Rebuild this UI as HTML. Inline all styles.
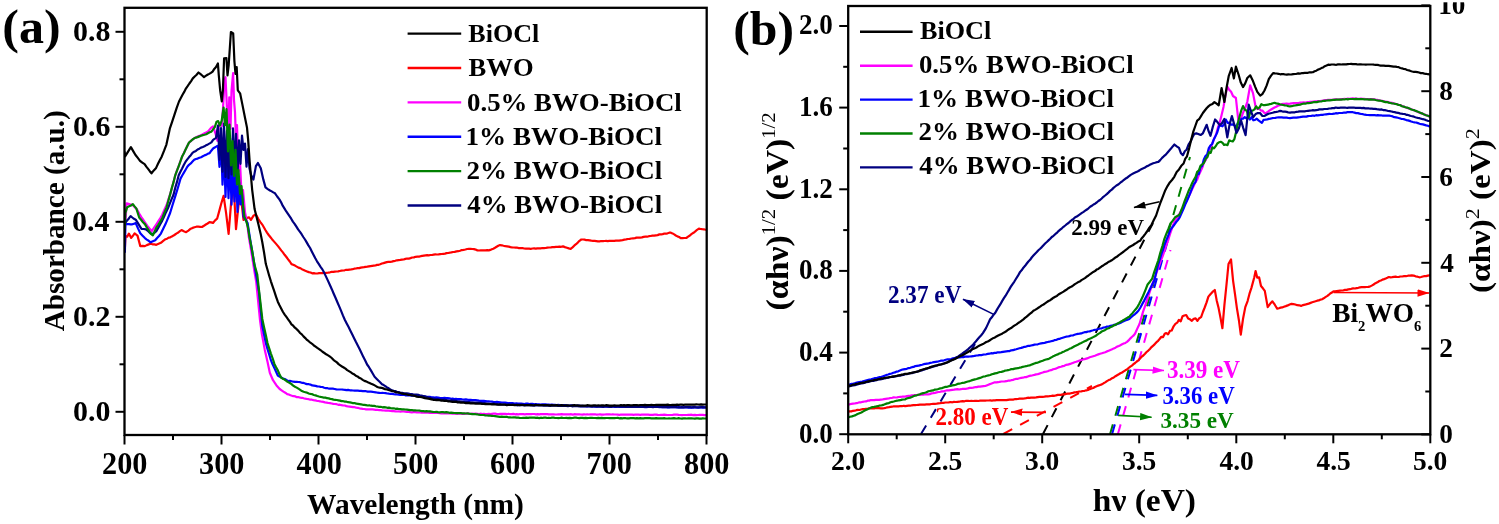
<!DOCTYPE html>
<html><head><meta charset="utf-8"><style>
html,body{margin:0;padding:0;background:#fff;width:1499px;height:524px;overflow:hidden}
svg{display:block;filter:blur(0.35px)}
text{font-family:"Liberation Serif",serif;font-weight:bold}
</style></head><body>
<svg width="1499" height="524" viewBox="0 0 1499 524" font-family="Liberation Serif, serif" font-weight="bold">
<rect width="1499" height="524" fill="#fff"/>
<defs><clipPath id="ca"><rect x="125" y="8" width="581" height="427"/></clipPath><clipPath id="cb"><rect x="849" y="6" width="581" height="428"/></clipPath><marker id="ah" viewBox="0 0 12 8" refX="11.5" refY="4" markerWidth="12" markerHeight="8" orient="auto" markerUnits="userSpaceOnUse"><path d="M0,0.3 L12,4 L0,7.7 z" fill="context-stroke"/></marker></defs>
<g clip-path="url(#ca)">
<path d="M124.8,250.0 L125.5,235.9 L127.2,236.7 L128.9,233.6 L131.2,237.9 L132.9,235.8 L134.6,233.4 L137.5,235.6 L140.3,246.1 L142.6,245.9 L144.9,246.1 L146.8,245.1 L148.7,244.4 L150.6,243.8 L152.5,244.3 L154.4,244.4 L156.3,244.8 L158.6,243.8 L160.9,242.8 L163.2,240.9 L165.5,239.2 L167.1,238.7 L168.7,237.6 L170.3,237.3 L171.9,236.4 L173.5,235.6 L175.1,234.5 L176.7,233.4 L178.3,232.5 L179.9,231.1 L181.5,230.1 L183.8,231.3 L186.1,232.2 L188.4,230.6 L190.7,228.7 L192.6,227.9 L194.5,227.2 L196.4,226.7 L198.3,226.7 L200.1,226.8 L202.0,227.0 L203.9,225.8 L205.8,224.5 L207.6,223.5 L209.5,222.2 L211.2,222.4 L213.0,223.0 L215.1,220.4 L217.1,218.7 L219.1,211.6 L221.2,203.7 L223.6,195.8 L226.1,213.1 L228.6,233.8 L231.1,202.6 L233.6,183.5 L236.0,229.1 L238.5,205.4 L241.0,197.4 L243.5,220.0 L245.3,218.2 L247.2,217.8 L249.1,217.4 L250.9,219.8 L253.4,215.8 L255.9,214.4 L258.4,219.1 L260.2,221.8 L262.1,224.3 L263.7,227.0 L265.4,230.0 L267.0,232.6 L268.7,235.0 L270.3,237.0 L272.0,239.2 L274.1,241.6 L276.1,243.9 L278.2,246.4 L281.2,250.4 L282.9,252.4 L284.6,254.8 L286.4,257.0 L288.1,259.3 L289.8,261.5 L291.5,264.1 L293.2,264.7 L295.0,265.6 L296.7,266.6 L298.4,267.6 L300.2,268.1 L301.9,269.2 L303.6,269.9 L305.3,270.7 L307.0,271.4 L308.8,272.1 L310.5,272.5 L312.2,273.3 L313.9,273.2 L315.6,273.5 L317.4,273.5 L319.1,273.1 L320.8,273.2 L322.5,273.2 L324.4,273.0 L326.2,272.8 L328.1,272.7 L330.0,272.3 L331.6,271.9 L333.2,271.9 L334.9,271.6 L336.5,271.5 L338.1,271.4 L339.7,271.0 L341.4,270.7 L343.0,270.5 L344.6,270.3 L346.2,269.8 L347.8,269.9 L349.5,269.6 L351.1,269.4 L352.7,269.1 L354.3,268.7 L355.9,268.5 L357.6,268.1 L359.2,268.1 L360.8,267.6 L362.4,267.4 L364.0,267.2 L365.7,266.9 L367.3,266.7 L368.9,266.4 L370.5,266.1 L372.2,265.9 L373.8,265.7 L375.4,265.5 L377.0,264.9 L378.6,264.8 L380.2,264.2 L381.9,263.5 L383.5,263.1 L385.1,262.6 L386.7,262.1 L388.4,261.8 L390.1,261.8 L391.8,261.6 L393.5,261.1 L395.2,260.8 L396.9,260.3 L398.6,260.1 L400.3,259.9 L402.0,259.6 L403.7,259.5 L405.4,258.9 L407.1,258.5 L408.8,258.6 L410.5,258.1 L412.2,257.5 L413.9,257.4 L415.6,256.8 L417.3,256.7 L419.0,256.6 L420.7,256.2 L422.3,255.9 L423.9,255.6 L425.6,255.4 L427.2,255.2 L428.8,255.3 L430.4,255.0 L432.0,255.0 L433.7,254.6 L435.3,254.4 L436.9,254.5 L438.5,254.4 L440.2,254.2 L441.8,254.0 L443.4,253.8 L445.0,253.6 L446.6,253.1 L448.2,253.0 L449.9,252.7 L451.5,252.3 L453.1,252.0 L454.7,251.9 L456.5,251.4 L458.3,251.2 L460.1,250.8 L461.8,250.1 L463.6,249.9 L465.4,249.5 L467.2,249.0 L468.9,248.8 L470.6,248.9 L472.3,249.0 L474.0,249.1 L475.7,249.6 L477.4,250.4 L479.0,250.5 L480.7,250.4 L482.3,250.3 L483.9,250.4 L485.5,250.4 L487.2,250.1 L488.8,250.4 L491.1,249.6 L493.3,248.7 L495.0,247.8 L496.6,246.8 L498.3,245.8 L500.0,245.1 L501.8,245.3 L503.5,245.8 L505.2,246.2 L507.0,246.3 L508.8,246.6 L510.5,247.1 L512.2,247.4 L514.0,247.5 L515.7,247.6 L517.4,247.7 L519.0,248.1 L520.7,248.2 L522.4,248.0 L524.1,248.5 L525.8,248.7 L527.4,248.6 L529.1,248.6 L530.8,248.8 L532.5,248.5 L534.1,248.4 L535.8,248.7 L537.4,248.4 L539.1,248.3 L540.7,248.3 L542.4,248.0 L544.0,248.1 L545.7,248.0 L547.3,247.6 L549.0,247.5 L550.8,247.4 L552.5,247.2 L554.2,247.2 L556.0,246.9 L557.8,246.9 L559.5,246.6 L561.2,246.8 L563.0,246.4 L564.9,247.1 L566.9,247.7 L568.8,248.4 L570.7,248.8 L572.5,247.4 L574.2,245.7 L576.0,244.2 L577.8,242.6 L579.5,240.8 L581.3,239.5 L583.0,239.5 L584.6,239.6 L586.3,240.2 L588.0,240.1 L589.6,240.4 L591.3,240.7 L593.0,240.8 L594.7,240.9 L596.3,241.1 L598.0,241.3 L599.6,241.4 L601.2,241.0 L602.9,241.2 L604.5,241.0 L606.1,240.9 L607.7,241.1 L609.4,240.9 L611.0,240.9 L612.6,240.9 L614.2,240.9 L615.9,240.7 L617.5,240.7 L619.1,240.6 L620.9,240.3 L622.6,240.1 L624.4,239.6 L626.1,239.4 L627.9,239.0 L629.6,238.9 L631.4,238.5 L633.1,238.3 L634.9,238.1 L636.6,237.6 L638.4,237.6 L640.1,237.6 L641.9,237.4 L643.6,236.9 L645.4,236.7 L647.1,236.7 L648.9,236.2 L650.6,236.0 L652.4,235.6 L654.1,235.6 L655.9,235.3 L657.6,235.1 L659.4,234.4 L661.1,234.4 L662.7,234.1 L664.4,233.5 L666.0,233.6 L667.6,233.3 L669.3,232.7 L670.9,232.7 L672.5,233.4 L674.2,234.4 L675.8,235.5 L677.4,236.4 L679.1,237.0 L680.7,238.1 L682.6,238.1 L684.4,238.0 L686.3,238.0 L688.1,236.7 L689.9,235.5 L691.7,233.9 L693.5,232.8 L695.3,231.4 L697.1,229.8 L698.9,228.6 L700.5,229.0 L702.2,229.2 L703.9,229.3 L705.5,229.7" fill="none" stroke="#ff0000" stroke-width="2.2" stroke-linejoin="round" stroke-linecap="round" />
<path d="M124.8,232.0 L126.6,203.4 L128.5,203.9 L130.4,204.5 L132.3,204.7 L134.6,207.1 L136.9,209.3 L139.2,213.6 L141.5,217.4 L143.4,220.0 L145.3,222.8 L147.2,225.7 L149.5,228.5 L151.8,231.1 L154.1,227.6 L156.3,224.5 L158.2,221.3 L160.2,218.3 L162.1,215.0 L164.3,209.9 L166.6,205.0 L168.3,199.7 L170.1,194.4 L171.8,188.3 L173.6,181.7 L175.3,175.3 L177.0,170.3 L178.8,166.0 L180.5,160.9 L182.2,156.6 L183.9,152.9 L185.6,149.4 L187.3,146.1 L189.0,142.8 L190.7,141.1 L192.5,139.6 L194.2,138.3 L195.9,137.4 L197.6,136.6 L199.4,135.9 L201.1,135.1 L202.8,134.2 L204.5,133.3 L206.2,132.4 L207.9,131.6 L211.0,127.9 L213.1,126.3 L215.6,133.9 L217.4,140.8 L219.0,123.6 L221.7,126.0 L223.0,108.5 L224.5,80.7 L225.5,77.2 L227.0,109.1 L228.0,139.9 L229.3,97.3 L230.5,128.8 L231.5,91.0 L233.1,73.1 L234.0,100.0 L235.0,112.4 L236.0,139.7 L237.0,125.0 L238.5,170.6 L240.0,161.4 L241.5,194.9 L243.0,190.1 L245.0,212.1 L247.0,222.1 L249.0,238.0 L252.0,255.9 L254.5,271.8 L256.2,281.8 L258.0,299.8 L260.0,320.1 L262.0,334.9 L264.8,349.9 L267.5,361.8 L269.8,372.7 L273.0,380.2 L274.8,382.8 L276.5,385.4 L279.7,389.0 L281.6,390.3 L283.4,391.6 L285.3,392.7 L287.2,394.1 L288.8,394.5 L290.5,395.3 L292.1,395.8 L293.7,396.1 L295.4,396.4 L297.0,397.2 L298.7,397.2 L300.3,397.6 L302.0,397.8 L303.7,398.3 L305.3,398.7 L307.0,399.0 L308.6,399.2 L310.2,399.6 L311.9,399.7 L313.5,400.1 L315.1,400.4 L316.8,400.8 L318.4,401.0 L320.0,401.3 L321.7,401.7 L323.3,401.9 L325.0,402.4 L326.7,402.6 L328.3,403.0 L330.0,403.2 L331.7,403.5 L333.3,403.9 L335.0,404.0 L336.6,404.2 L338.3,404.8 L339.9,404.7 L341.5,405.2 L343.2,405.5 L344.8,405.5 L346.4,406.1 L348.1,406.4 L349.7,406.6 L351.3,406.9 L353.0,407.2 L354.6,407.2 L356.2,407.6 L357.9,407.9 L359.5,408.3 L361.1,408.6 L362.8,408.9 L364.4,409.0 L366.0,409.3 L367.7,409.3 L369.3,409.4 L370.9,409.4 L372.6,409.4 L374.2,409.6 L375.8,409.8 L377.5,409.8 L379.1,410.2 L380.7,410.2 L382.4,410.4 L384.0,410.5 L385.6,410.6 L387.3,410.7 L388.9,410.6 L390.5,411.0 L392.2,411.1 L393.8,411.1 L395.4,411.3 L397.1,411.5 L398.7,411.3 L400.3,411.7 L402.0,411.5 L403.6,411.5 L405.3,411.7 L406.9,412.0 L408.5,411.8 L410.2,412.1 L411.8,412.3 L413.4,412.1 L415.1,412.2 L416.7,412.3 L418.4,412.4 L420.0,412.5 L421.6,412.6 L423.3,412.6 L424.9,412.5 L426.5,412.6 L428.2,412.7 L429.8,413.0 L431.5,412.8 L433.1,413.0 L434.7,412.8 L436.4,412.9 L438.0,413.0 L439.6,413.2 L441.3,413.3 L442.9,413.3 L444.5,413.2 L446.2,413.3 L447.8,413.3 L449.4,413.4 L451.1,413.3 L452.7,413.6 L454.3,413.4 L456.0,413.7 L457.6,413.8 L459.2,413.4 L460.9,413.6 L462.5,413.8 L464.1,413.9 L465.8,413.7 L467.4,413.7 L469.0,413.7 L470.7,414.0 L472.3,413.7 L474.0,413.9 L475.6,413.7 L477.3,413.9 L478.9,414.1 L480.5,413.7 L482.2,414.0 L483.8,413.9 L485.5,414.1 L487.1,414.0 L488.8,413.8 L490.4,414.1 L492.1,413.9 L493.7,413.7 L495.3,413.7 L497.0,414.0 L498.6,414.0 L500.3,413.9 L501.9,413.8 L503.6,413.9 L505.2,413.9 L506.9,414.2 L508.5,413.8 L510.1,414.2 L511.8,414.2 L513.4,413.9 L515.1,414.3 L516.7,414.2 L518.4,414.3 L520.0,414.0 L521.6,414.1 L523.2,414.1 L524.8,414.3 L526.4,414.2 L528.0,414.1 L529.6,414.1 L531.2,414.1 L532.8,414.0 L534.4,414.0 L536.0,414.3 L537.6,414.1 L539.2,414.4 L540.8,414.1 L542.4,414.1 L544.0,414.2 L545.6,414.1 L547.2,414.2 L548.8,414.4 L550.4,414.4 L552.0,414.4 L553.6,414.3 L555.2,414.5 L556.8,414.5 L558.4,414.3 L560.0,414.4 L561.6,414.1 L563.2,414.4 L564.8,414.3 L566.4,414.4 L568.0,414.4 L569.6,414.3 L571.2,414.2 L572.8,414.6 L574.4,414.2 L576.0,414.4 L577.6,414.3 L579.2,414.3 L580.8,414.5 L582.4,414.6 L584.0,414.3 L585.6,414.5 L587.2,414.3 L588.8,414.5 L590.4,414.4 L592.0,414.3 L593.6,414.3 L595.2,414.3 L596.8,414.7 L598.4,414.5 L600.0,414.4 L601.6,414.7 L603.2,414.7 L604.8,414.5 L606.4,414.4 L608.0,414.4 L609.6,414.4 L611.2,414.5 L612.8,414.4 L614.5,414.5 L616.1,414.5 L617.7,414.6 L619.3,414.8 L620.9,414.7 L622.5,414.6 L624.1,414.6 L625.7,414.6 L627.3,414.6 L628.9,414.6 L630.5,414.5 L632.1,414.6 L633.7,414.9 L635.3,414.5 L636.9,414.7 L638.5,414.7 L640.2,414.8 L641.8,414.6 L643.4,414.6 L645.0,414.6 L646.6,414.7 L648.2,414.7 L649.8,414.9 L651.4,414.9 L653.0,414.9 L654.6,414.5 L656.2,414.6 L657.8,414.9 L659.4,415.0 L661.0,414.8 L662.6,414.8 L664.2,414.6 L665.8,414.8 L667.5,415.0 L669.1,415.0 L670.7,415.0 L672.3,415.0 L673.9,414.7 L675.5,414.7 L677.1,414.7 L678.7,414.9 L680.3,415.0 L681.9,415.1 L683.5,415.0 L685.1,415.0 L686.7,415.0 L688.3,414.9 L689.9,414.9 L691.5,414.7 L693.2,415.1 L694.8,414.8 L696.4,415.1 L698.0,415.0 L699.6,414.9 L701.2,414.8 L702.8,414.9 L704.4,415.1 L706.0,415.0" fill="none" stroke="#ff00ff" stroke-width="2.2" stroke-linejoin="round" stroke-linecap="round" />
<path d="M124.9,252.0 L125.4,224.4 L127.1,224.1 L128.9,224.1 L130.6,224.3 L132.3,224.3 L134.0,223.7 L135.7,223.1 L138.0,228.4 L140.3,233.3 L142.6,235.7 L144.9,238.1 L146.8,239.6 L148.7,240.8 L150.6,242.3 L152.9,241.2 L155.2,240.3 L157.1,238.0 L159.0,236.0 L160.9,233.6 L163.2,228.8 L165.5,224.1 L167.8,218.6 L170.1,213.0 L172.0,206.8 L173.9,200.6 L175.8,194.7 L178.2,186.8 L180.5,178.6 L182.2,175.5 L183.9,172.6 L185.6,169.7 L187.3,166.8 L189.0,164.8 L190.8,163.4 L192.5,161.6 L194.2,159.8 L195.9,159.0 L197.6,158.6 L199.4,157.7 L201.1,157.2 L202.8,156.3 L204.5,155.4 L206.2,154.8 L207.9,153.7 L209.6,153.1 L211.3,150.7 L213.1,148.5 L214.7,147.5 L216.3,146.6 L217.9,145.8 L219.5,166.8 L221.0,138.6 L222.5,184.6 L224.0,148.9 L225.5,196.9 L227.0,153.6 L228.5,198.2 L230.0,158.2 L231.5,204.6 L233.0,166.6 L234.5,201.5 L236.0,170.9 L237.5,212.0 L239.0,181.7 L240.5,204.3 L242.0,193.7 L243.5,216.7 L245.0,219.0 L247.6,223.1 L250.3,240.1 L252.0,250.2 L253.7,260.5 L255.4,270.8 L257.2,281.1 L258.9,291.3 L260.6,308.6 L262.3,325.8 L264.1,334.7 L265.8,342.9 L267.5,349.0 L269.2,354.4 L270.9,360.2 L272.6,364.3 L274.4,368.1 L276.1,371.8 L277.8,375.5 L279.5,376.6 L281.2,377.4 L283.0,378.5 L284.7,379.0 L286.4,380.0 L288.1,381.1 L289.8,380.9 L291.6,381.3 L293.3,381.7 L295.0,381.9 L296.7,381.8 L298.4,382.0 L300.2,382.2 L301.9,382.8 L303.6,382.9 L305.3,383.6 L307.0,384.1 L308.8,384.2 L310.5,384.6 L312.2,385.4 L313.9,385.6 L315.6,385.9 L317.3,386.4 L319.0,386.5 L320.7,386.8 L322.5,387.0 L324.2,387.7 L325.9,388.1 L327.6,388.2 L329.3,388.7 L331.1,388.5 L332.9,388.7 L334.6,389.0 L336.4,389.4 L338.2,389.5 L340.0,389.5 L341.6,389.5 L343.3,389.7 L344.9,389.8 L346.5,390.1 L348.1,389.9 L349.8,390.3 L351.4,390.4 L353.0,390.5 L354.6,390.6 L356.3,390.7 L357.9,390.7 L359.5,390.8 L361.1,390.9 L362.8,391.2 L364.4,391.0 L366.0,391.2 L367.7,391.6 L369.3,391.6 L370.9,391.7 L372.6,391.8 L374.2,392.2 L375.8,392.3 L377.5,392.7 L379.1,392.8 L380.7,393.0 L382.4,392.9 L384.0,393.0 L385.6,393.1 L387.3,393.5 L388.9,393.7 L390.5,393.8 L392.2,393.8 L393.8,394.1 L395.4,394.3 L397.1,394.5 L398.7,394.7 L400.3,394.9 L402.0,394.9 L403.6,394.8 L405.3,395.3 L406.9,395.2 L408.5,395.4 L410.2,395.4 L411.8,395.7 L413.4,395.6 L415.1,395.8 L416.7,395.9 L418.4,396.0 L420.0,396.4 L421.6,396.4 L423.3,396.5 L424.9,396.6 L426.5,397.0 L428.2,396.9 L429.8,396.9 L431.5,397.3 L433.1,397.4 L434.7,397.6 L436.4,397.4 L438.0,397.6 L439.6,397.9 L441.3,398.0 L442.9,398.2 L444.5,397.9 L446.2,398.1 L447.8,398.2 L449.4,398.3 L451.1,398.8 L452.7,398.7 L454.3,399.0 L456.0,398.8 L457.6,399.2 L459.2,399.1 L460.9,399.1 L462.5,399.5 L464.1,399.7 L465.8,399.4 L467.4,399.7 L469.0,399.9 L470.7,399.8 L472.3,400.0 L474.0,400.1 L475.6,400.2 L477.2,400.4 L478.9,400.7 L480.5,400.8 L482.1,400.8 L483.8,400.8 L485.4,401.1 L487.1,401.4 L488.7,401.3 L490.3,401.5 L492.0,401.6 L493.6,402.0 L495.3,402.0 L496.9,401.9 L498.5,402.1 L500.2,402.3 L501.8,402.5 L503.4,402.7 L505.1,402.6 L506.7,402.8 L508.4,403.2 L510.0,403.2 L511.6,403.2 L513.2,403.2 L514.8,403.6 L516.4,403.4 L518.0,403.5 L519.6,403.5 L521.2,403.6 L522.9,403.8 L524.5,404.0 L526.1,403.7 L527.7,403.7 L529.3,404.0 L530.9,403.9 L532.5,403.8 L534.1,404.3 L535.7,404.1 L537.3,404.4 L538.9,404.3 L540.5,404.5 L542.1,404.4 L543.8,404.3 L545.4,404.3 L547.0,404.6 L548.6,404.7 L550.2,404.9 L551.8,404.6 L553.4,404.9 L555.0,404.8 L556.6,405.0 L558.2,404.9 L559.8,405.0 L561.4,405.2 L563.0,405.4 L564.6,405.1 L566.2,405.3 L567.9,405.5 L569.5,405.7 L571.1,405.4 L572.7,405.4 L574.3,405.8 L575.9,405.9 L577.5,405.7 L579.1,405.6 L580.7,406.1 L582.3,405.9 L583.9,406.2 L585.5,406.1 L587.1,406.3 L588.8,406.0 L590.4,406.4 L592.0,406.2 L593.6,406.3 L595.2,406.6 L596.8,406.6 L598.4,406.4 L600.0,406.5 L601.6,406.6 L603.2,406.6 L604.8,406.6 L606.4,406.5 L608.0,406.6 L609.6,406.8 L611.2,406.9 L612.8,406.5 L614.5,406.8 L616.1,406.8 L617.7,406.5 L619.3,406.9 L620.9,406.6 L622.5,406.8 L624.1,406.8 L625.7,406.9 L627.3,406.7 L628.9,406.8 L630.5,406.9 L632.1,406.8 L633.7,407.0 L635.3,406.9 L636.9,406.9 L638.5,406.7 L640.2,407.0 L641.8,406.9 L643.4,406.9 L645.0,407.1 L646.6,407.1 L648.2,407.0 L649.8,406.9 L651.4,407.0 L653.0,406.9 L654.6,406.9 L656.2,407.0 L657.8,406.9 L659.4,407.1 L661.0,407.1 L662.6,406.9 L664.2,407.2 L665.8,407.0 L667.5,407.3 L669.1,407.3 L670.7,407.2 L672.3,407.0 L673.9,407.2 L675.5,407.2 L677.1,407.5 L678.7,407.1 L680.3,407.4 L681.9,407.5 L683.5,407.4 L685.1,407.5 L686.7,407.2 L688.3,407.6 L689.9,407.4 L691.5,407.6 L693.2,407.6 L694.8,407.3 L696.4,407.5 L698.0,407.6 L699.6,407.3 L701.2,407.4 L702.8,407.6 L704.4,407.3 L706.0,407.5" fill="none" stroke="#0000ff" stroke-width="2.2" stroke-linejoin="round" stroke-linecap="round" />
<path d="M124.8,232.0 L124.9,223.4 L126.8,220.8 L128.7,218.7 L130.6,216.1 L132.3,217.5 L134.0,218.8 L135.7,219.7 L137.6,222.7 L139.6,225.9 L141.5,228.8 L143.8,229.0 L146.0,229.4 L147.8,230.8 L149.5,232.5 L152.3,234.2 L154.3,232.8 L156.3,231.1 L158.2,227.9 L160.2,224.2 L162.1,220.9 L164.0,216.8 L165.9,212.4 L167.8,208.5 L169.7,203.8 L171.6,199.2 L173.5,194.8 L175.2,188.0 L177.0,181.9 L178.7,175.3 L180.4,171.7 L182.1,168.5 L183.9,164.8 L185.6,161.7 L187.3,159.4 L189.1,157.1 L190.8,155.2 L192.5,152.9 L194.2,151.7 L195.9,150.9 L197.6,149.5 L199.3,148.7 L201.0,147.6 L202.8,147.0 L204.5,146.3 L206.2,145.2 L207.9,144.4 L209.7,143.4 L211.4,142.4 L213.1,139.8 L216.0,137.9 L218.0,125.5 L219.5,159.7 L221.0,128.1 L222.5,171.6 L224.0,123.5 L225.5,176.9 L227.0,130.6 L228.5,178.1 L230.0,138.0 L231.5,174.4 L233.0,128.4 L234.5,169.4 L236.0,133.9 L237.5,175.3 L239.0,140.4 L240.5,163.8 L242.0,135.5 L243.5,149.9 L245.0,143.5 L246.5,166.7 L248.0,149.0 L249.5,168.6 L251.0,174.8 L253.4,179.6 L255.9,166.1 L257.9,163.0 L260.8,168.3 L263.3,179.4 L265.5,187.4 L267.8,189.1 L270.0,190.5 L271.7,191.4 L273.3,192.4 L275.0,193.3 L277.2,196.5 L279.4,199.4 L281.1,202.3 L282.7,205.7 L284.4,208.4 L286.1,211.2 L287.8,213.7 L289.5,216.2 L291.2,218.7 L292.9,221.6 L294.6,223.8 L296.4,226.6 L298.1,229.4 L299.8,231.6 L301.6,234.2 L303.3,237.0 L305.0,239.5 L306.7,242.4 L308.4,245.4 L310.1,248.0 L311.8,251.4 L313.6,254.9 L315.3,258.2 L317.0,261.3 L318.7,263.9 L320.4,266.6 L322.0,268.8 L323.7,271.7 L325.8,276.1 L327.8,280.4 L329.9,285.0 L331.8,289.2 L333.6,293.5 L335.5,297.8 L337.4,302.2 L339.2,306.4 L341.1,310.9 L342.9,315.4 L344.8,319.7 L346.7,323.5 L348.6,327.1 L350.4,330.7 L352.3,334.5 L354.1,338.2 L356.0,342.1 L357.9,345.7 L359.7,349.3 L361.6,353.2 L363.4,357.1 L365.2,360.5 L367.1,364.5 L369.0,367.2 L370.9,370.4 L372.7,373.5 L374.6,376.8 L376.5,378.7 L378.3,380.5 L380.1,382.2 L382.0,384.3 L383.7,385.1 L385.3,386.1 L387.0,387.4 L388.7,388.3 L390.3,389.4 L392.0,390.4 L393.6,390.9 L395.3,391.1 L396.9,391.7 L398.6,392.1 L400.2,392.5 L401.9,392.8 L403.5,393.1 L405.2,393.3 L406.8,393.4 L408.5,393.6 L410.1,394.0 L411.8,394.0 L413.4,394.6 L415.1,394.5 L416.7,394.6 L418.4,394.9 L420.0,395.5 L421.6,395.7 L423.3,396.0 L424.9,396.4 L426.6,396.8 L428.2,397.5 L429.8,397.9 L431.5,398.4 L433.1,398.8 L434.7,398.7 L436.4,399.1 L438.0,399.1 L439.6,399.5 L441.3,399.7 L442.9,399.8 L444.5,399.6 L446.2,400.2 L447.8,400.3 L449.4,400.5 L451.1,400.3 L452.7,400.5 L454.3,400.6 L456.0,400.8 L457.6,401.3 L459.2,401.4 L460.9,401.5 L462.5,401.8 L464.1,401.8 L465.8,401.8 L467.4,401.9 L469.0,402.0 L470.7,402.4 L472.3,402.3 L474.0,402.5 L475.6,402.6 L477.2,402.5 L478.9,402.7 L480.5,402.9 L482.1,403.2 L483.8,403.1 L485.4,403.2 L487.1,403.6 L488.7,403.5 L490.3,403.8 L492.0,403.8 L493.6,403.6 L495.3,403.9 L496.9,404.0 L498.5,404.3 L500.2,404.2 L501.8,404.5 L503.4,404.5 L505.1,404.5 L506.7,404.8 L508.4,404.6 L510.0,405.0 L511.6,404.8 L513.2,404.7 L514.8,404.9 L516.4,405.1 L518.0,405.3 L519.6,404.9 L521.2,405.1 L522.9,405.1 L524.5,405.3 L526.1,405.1 L527.7,405.2 L529.3,405.2 L530.9,405.4 L532.5,405.2 L534.1,405.6 L535.7,405.3 L537.3,405.3 L538.9,405.5 L540.5,405.5 L542.1,405.3 L543.8,405.6 L545.4,405.4 L547.0,405.7 L548.6,405.7 L550.2,405.8 L551.8,405.7 L553.4,405.7 L555.0,405.7 L556.6,405.7 L558.2,406.0 L559.8,405.7 L561.4,406.0 L563.0,405.7 L564.6,405.8 L566.2,405.9 L567.9,406.2 L569.5,406.0 L571.1,406.0 L572.7,406.3 L574.3,406.0 L575.9,406.1 L577.5,406.2 L579.1,406.3 L580.7,406.3 L582.3,406.3 L583.9,406.2 L585.5,406.3 L587.1,406.2 L588.8,406.5 L590.4,406.5 L592.0,406.6 L593.6,406.3 L595.2,406.5 L596.8,406.7 L598.4,406.6 L600.0,406.4 L601.6,406.6 L603.2,406.8 L604.8,406.5 L606.4,406.5 L608.0,406.6 L609.6,406.8 L611.2,406.8 L612.8,406.5 L614.5,406.5 L616.1,406.6 L617.7,406.6 L619.3,406.7 L620.9,406.6 L622.5,406.7 L624.1,406.6 L625.7,407.0 L627.3,406.9 L628.9,406.6 L630.5,407.0 L632.1,406.6 L633.7,406.8 L635.3,407.0 L636.9,407.0 L638.5,407.0 L640.2,406.8 L641.8,406.7 L643.4,406.9 L645.0,406.7 L646.6,406.8 L648.2,406.9 L649.8,406.7 L651.4,406.9 L653.0,407.1 L654.6,407.0 L656.2,407.0 L657.8,407.0 L659.4,407.0 L661.0,406.8 L662.6,407.1 L664.2,407.0 L665.8,407.1 L667.5,407.2 L669.1,407.0 L670.7,407.1 L672.3,407.2 L673.9,407.1 L675.5,407.0 L677.1,407.2 L678.7,407.3 L680.3,407.3 L681.9,407.2 L683.5,407.3 L685.1,407.2 L686.7,407.2 L688.3,407.2 L689.9,407.1 L691.5,407.3 L693.2,407.0 L694.8,407.2 L696.4,407.4 L698.0,407.3 L699.6,407.3 L701.2,407.2 L702.8,407.2 L704.4,407.3 L706.0,407.3" fill="none" stroke="#000080" stroke-width="2.2" stroke-linejoin="round" stroke-linecap="round" />
<path d="M124.8,228.0 L125.4,213.0 L127.2,207.2 L129.1,206.3 L131.0,205.5 L132.9,204.2 L134.6,206.4 L136.3,208.4 L139.2,217.5 L141.1,219.8 L143.0,222.2 L144.9,224.1 L146.8,227.4 L148.7,230.3 L150.6,233.6 L152.9,235.4 L154.6,231.5 L156.3,227.6 L158.2,224.8 L160.2,221.7 L162.1,218.7 L164.3,212.9 L166.6,207.3 L168.3,201.0 L170.1,194.6 L171.8,188.1 L173.6,181.9 L175.3,175.1 L177.0,170.6 L178.8,165.8 L180.5,161.2 L182.2,156.2 L183.9,153.2 L185.6,149.4 L187.3,145.9 L189.0,142.5 L190.7,141.1 L192.5,139.5 L194.2,138.3 L195.9,137.6 L197.6,137.1 L199.4,136.4 L201.1,135.7 L202.8,135.1 L204.5,134.7 L206.2,134.2 L207.9,133.2 L209.7,132.2 L211.4,131.6 L213.1,129.3 L214.8,127.1 L216.5,121.8 L218.2,121.1 L219.9,125.5 L221.7,120.7 L223.6,107.5 L225.0,125.2 L226.5,109.2 L228.0,151.4 L229.5,124.6 L231.0,165.4 L232.5,141.0 L234.0,175.9 L235.5,149.9 L237.0,184.4 L238.5,170.1 L240.0,193.9 L241.5,186.0 L243.0,204.6 L244.5,217.1 L246.0,220.3 L248.0,227.6 L249.5,237.3 L252.0,250.0 L254.5,264.9 L257.2,274.2 L258.9,289.4 L260.6,304.0 L262.3,318.9 L264.0,326.9 L265.8,335.1 L267.5,343.1 L269.2,348.3 L270.9,353.5 L272.7,358.5 L274.4,363.9 L276.1,367.3 L277.8,370.4 L279.5,374.2 L281.2,377.7 L282.9,378.8 L284.6,379.6 L286.4,381.0 L288.1,382.1 L289.8,383.0 L291.5,384.1 L293.2,385.6 L295.0,386.7 L296.7,387.6 L298.4,388.7 L300.2,389.9 L301.9,391.1 L303.6,391.8 L305.3,392.2 L307.0,392.6 L308.7,393.5 L310.4,393.9 L312.2,394.2 L313.9,395.0 L315.6,395.4 L317.3,396.0 L319.0,396.5 L320.6,396.9 L322.2,397.2 L323.8,397.6 L325.5,397.6 L327.1,398.2 L328.7,398.4 L330.3,398.9 L331.9,399.1 L333.5,399.6 L335.2,399.8 L336.8,400.0 L338.4,400.3 L340.0,400.6 L341.6,401.1 L343.3,401.2 L344.9,401.6 L346.5,401.7 L348.1,402.2 L349.8,402.4 L351.4,402.7 L353.0,403.1 L354.6,403.0 L356.3,403.7 L357.9,403.8 L359.5,404.1 L361.1,404.4 L362.8,404.8 L364.4,404.8 L366.0,405.1 L367.7,405.5 L369.3,405.3 L370.9,405.7 L372.6,405.9 L374.2,405.9 L375.8,406.3 L377.5,406.5 L379.1,406.8 L380.7,406.8 L382.4,407.3 L384.0,407.2 L385.6,407.4 L387.3,407.8 L388.9,407.6 L390.5,408.1 L392.2,408.3 L393.8,408.3 L395.4,408.8 L397.1,408.7 L398.7,409.0 L400.3,409.1 L402.0,409.4 L403.6,409.3 L405.3,409.5 L406.9,409.6 L408.5,409.8 L410.2,410.1 L411.8,410.0 L413.4,410.3 L415.1,410.3 L416.7,410.5 L418.4,410.5 L420.0,410.7 L421.6,411.1 L423.3,411.1 L424.9,411.3 L426.5,411.2 L428.2,411.3 L429.8,411.4 L431.5,411.7 L433.1,411.9 L434.7,412.0 L436.4,411.8 L438.0,412.1 L439.6,412.3 L441.3,412.2 L442.9,412.1 L444.5,412.3 L446.2,412.2 L447.8,412.4 L449.4,412.8 L451.1,412.7 L452.7,412.8 L454.3,413.0 L456.0,413.1 L457.6,413.1 L459.2,413.1 L460.9,413.2 L462.5,413.3 L464.1,413.4 L465.8,413.5 L467.4,413.4 L469.0,413.7 L470.7,413.8 L472.3,414.1 L473.9,414.0 L475.5,414.2 L477.2,414.3 L478.8,414.7 L480.4,415.0 L482.1,415.0 L483.7,415.0 L485.3,415.4 L487.0,415.5 L488.6,415.6 L490.2,415.6 L491.9,415.8 L493.5,416.0 L495.1,416.1 L496.7,416.3 L498.4,416.6 L500.0,416.9 L501.7,416.6 L503.3,416.9 L505.0,416.8 L506.7,416.9 L508.3,417.3 L510.0,417.3 L511.7,417.5 L513.3,417.4 L515.0,417.3 L516.7,417.6 L518.3,417.7 L520.0,418.0 L521.6,418.0 L523.2,417.8 L524.8,417.8 L526.4,417.6 L528.0,417.9 L529.6,417.7 L531.2,417.7 L532.8,417.6 L534.4,417.6 L536.0,417.9 L537.6,417.7 L539.2,418.1 L540.8,417.7 L542.4,418.0 L544.0,417.7 L545.6,417.7 L547.2,418.0 L548.8,417.8 L550.4,418.0 L552.0,417.7 L553.6,417.7 L555.2,418.0 L556.8,418.0 L558.4,418.1 L560.0,418.0 L561.6,417.7 L563.2,418.0 L564.8,418.0 L566.4,417.9 L568.0,418.1 L569.6,417.8 L571.2,418.1 L572.8,418.0 L574.4,417.7 L576.0,417.7 L577.6,418.0 L579.2,418.1 L580.8,417.8 L582.4,417.9 L584.0,418.1 L585.6,417.8 L587.2,418.1 L588.8,418.0 L590.4,417.8 L592.0,417.9 L593.6,418.0 L595.2,418.0 L596.8,418.1 L598.4,417.8 L600.0,418.1 L601.6,417.9 L603.2,418.1 L604.8,418.1 L606.4,418.0 L608.0,418.0 L609.6,418.2 L611.2,418.2 L612.8,418.2 L614.5,418.1 L616.1,418.0 L617.7,417.9 L619.3,418.3 L620.9,418.2 L622.5,418.3 L624.1,418.0 L625.7,418.2 L627.3,418.3 L628.9,418.3 L630.5,418.2 L632.1,418.1 L633.7,418.1 L635.3,418.3 L636.9,418.1 L638.5,418.3 L640.2,418.2 L641.8,418.4 L643.4,418.3 L645.0,418.1 L646.6,418.0 L648.2,418.1 L649.8,418.2 L651.4,418.3 L653.0,418.4 L654.6,418.4 L656.2,418.1 L657.8,418.4 L659.4,418.4 L661.0,418.4 L662.6,418.3 L664.2,418.2 L665.8,418.5 L667.5,418.5 L669.1,418.4 L670.7,418.5 L672.3,418.3 L673.9,418.2 L675.5,418.4 L677.1,418.5 L678.7,418.2 L680.3,418.5 L681.9,418.6 L683.5,418.3 L685.1,418.4 L686.7,418.5 L688.3,418.4 L689.9,418.3 L691.5,418.3 L693.2,418.5 L694.8,418.6 L696.4,418.4 L698.0,418.3 L699.6,418.6 L701.2,418.6 L702.8,418.4 L704.4,418.5 L706.0,418.5" fill="none" stroke="#008000" stroke-width="2.2" stroke-linejoin="round" stroke-linecap="round" />
<path d="M124.5,152.0 L125.1,156.5 L127.0,153.4 L129.0,150.2 L130.9,147.1 L133.2,151.1 L135.5,155.0 L137.8,157.9 L140.0,160.8 L142.3,162.7 L144.6,164.2 L146.3,166.6 L148.1,168.9 L149.8,171.2 L151.5,173.3 L153.8,170.4 L156.1,167.9 L158.0,163.8 L159.9,159.9 L161.8,156.4 L164.1,150.7 L166.4,144.6 L168.1,136.8 L169.8,128.7 L172.1,121.9 L174.4,114.8 L176.7,107.9 L179.0,101.5 L180.7,98.3 L182.4,95.0 L184.2,91.9 L185.9,88.6 L187.6,86.2 L189.4,83.5 L191.1,81.1 L192.8,78.4 L194.7,76.5 L196.6,74.7 L198.5,72.5 L200.3,73.9 L202.2,75.5 L204.0,77.1 L205.7,75.9 L207.5,74.8 L209.2,73.9 L210.9,72.9 L212.6,71.6 L214.3,68.9 L216.0,67.0 L217.9,63.4 L218.8,75.3 L220.2,90.7 L221.8,101.4 L222.9,90.2 L224.1,58.3 L226.4,58.0 L227.5,75.4 L228.7,65.0 L230.9,32.0 L233.2,33.5 L234.4,61.1 L235.5,74.0 L236.7,67.2 L237.8,90.3 L240.1,93.3 L242.4,104.6 L244.7,116.2 L247.0,127.6 L248.1,139.4 L249.7,162.2 L252.2,190.1 L254.6,209.1 L256.5,216.8 L258.4,224.2 L260.8,234.6 L262.3,242.2 L264.1,252.8 L265.8,263.8 L267.5,269.8 L269.2,275.7 L270.9,281.3 L272.6,286.3 L274.4,291.6 L276.1,296.8 L277.8,301.7 L279.5,305.3 L281.3,308.7 L283.0,312.0 L284.7,314.6 L286.4,316.9 L288.1,319.3 L289.8,321.6 L291.5,324.3 L293.2,325.7 L294.9,327.7 L296.7,329.2 L298.4,330.9 L300.1,333.0 L301.8,334.4 L303.5,336.4 L305.3,338.1 L307.0,339.9 L308.7,341.2 L310.4,342.7 L312.1,343.8 L313.9,345.5 L315.6,346.7 L317.3,347.9 L319.1,349.1 L320.8,350.3 L322.5,351.8 L324.4,353.0 L326.2,354.3 L328.1,355.4 L330.0,356.7 L331.7,358.0 L333.4,359.8 L335.1,361.1 L336.9,362.4 L338.6,364.1 L340.3,365.3 L342.0,366.5 L343.7,367.5 L345.5,368.7 L347.2,370.1 L348.9,371.1 L350.6,372.2 L352.3,373.4 L354.1,374.3 L355.8,375.7 L357.5,376.4 L359.2,377.8 L360.9,378.5 L362.7,379.9 L364.4,380.9 L366.1,381.4 L367.8,382.3 L369.5,383.0 L371.2,383.8 L373.0,384.5 L374.7,385.4 L376.4,386.4 L378.1,387.2 L379.8,387.7 L381.5,387.8 L383.2,388.4 L385.0,389.1 L386.7,389.3 L388.4,390.0 L390.1,390.4 L391.8,391.1 L393.6,391.2 L395.3,392.1 L397.0,392.3 L398.7,392.7 L400.3,393.0 L402.0,393.7 L403.6,393.9 L405.3,394.1 L406.9,394.5 L408.5,395.0 L410.2,395.0 L411.8,395.5 L413.4,395.7 L415.1,396.0 L416.7,396.6 L418.4,396.9 L420.0,397.0 L421.6,397.2 L423.3,397.6 L424.9,398.1 L426.5,398.4 L428.2,398.6 L429.8,398.9 L431.5,399.4 L433.1,399.8 L434.7,400.0 L436.4,400.1 L438.0,400.1 L439.6,400.2 L441.3,400.6 L442.9,400.7 L444.5,401.0 L446.2,400.8 L447.8,401.3 L449.4,401.3 L451.1,401.7 L452.7,401.9 L454.3,401.9 L456.0,401.8 L457.6,402.4 L459.2,402.4 L460.9,402.7 L462.5,402.6 L464.1,402.7 L465.8,403.2 L467.4,403.1 L469.0,403.1 L470.7,403.3 L472.3,403.4 L474.0,403.3 L475.6,403.6 L477.2,403.6 L478.9,403.7 L480.5,403.6 L482.1,403.9 L483.8,404.0 L485.4,404.1 L487.1,404.0 L488.7,404.2 L490.3,404.1 L492.0,404.3 L493.6,404.1 L495.3,404.5 L496.9,404.6 L498.5,404.5 L500.2,404.6 L501.8,404.7 L503.4,404.7 L505.1,404.6 L506.7,405.1 L508.4,404.8 L510.0,404.9 L511.6,404.8 L513.2,404.9 L514.8,405.2 L516.4,404.8 L518.0,404.9 L519.6,405.1 L521.2,404.9 L522.9,404.9 L524.5,405.1 L526.1,405.1 L527.7,405.1 L529.3,405.2 L530.9,404.9 L532.5,405.3 L534.1,405.2 L535.7,404.9 L537.3,405.0 L538.9,405.2 L540.5,405.2 L542.1,405.1 L543.8,405.0 L545.4,405.2 L547.0,405.0 L548.6,405.3 L550.2,405.4 L551.8,405.1 L553.4,405.3 L555.0,405.4 L556.6,405.1 L558.2,405.4 L559.8,405.5 L561.4,405.2 L563.0,405.3 L564.6,405.5 L566.2,405.3 L567.9,405.3 L569.5,405.5 L571.1,405.5 L572.7,405.3 L574.3,405.2 L575.9,405.3 L577.5,405.3 L579.1,405.6 L580.7,405.5 L582.3,405.6 L583.9,405.5 L585.5,405.6 L587.1,405.2 L588.8,405.4 L590.4,405.6 L592.0,405.6 L593.6,405.4 L595.2,405.4 L596.8,405.5 L598.4,405.4 L600.0,405.5 L601.6,405.3 L603.2,405.4 L604.8,405.5 L606.4,405.2 L608.0,405.3 L609.6,405.6 L611.2,405.5 L612.8,405.6 L614.5,405.4 L616.1,405.5 L617.7,405.5 L619.3,405.5 L620.9,405.1 L622.5,405.4 L624.1,405.2 L625.7,405.3 L627.3,405.1 L628.9,405.2 L630.5,405.4 L632.1,405.3 L633.7,405.1 L635.3,405.2 L636.9,405.1 L638.5,405.3 L640.2,405.0 L641.8,405.0 L643.4,405.2 L645.0,404.9 L646.6,405.1 L648.2,405.2 L649.8,405.0 L651.4,404.9 L653.0,405.0 L654.6,405.0 L656.2,404.8 L657.8,404.8 L659.4,404.8 L661.0,404.8 L662.6,404.9 L664.2,404.8 L665.8,404.8 L667.5,404.7 L669.1,404.9 L670.7,405.0 L672.3,404.9 L673.9,404.8 L675.5,404.9 L677.1,404.6 L678.7,404.9 L680.3,404.7 L681.9,404.7 L683.5,404.8 L685.1,404.7 L686.7,404.6 L688.3,404.6 L689.9,404.5 L691.5,404.6 L693.2,404.6 L694.8,404.6 L696.4,404.4 L698.0,404.5 L699.6,404.7 L701.2,404.4 L702.8,404.6 L704.4,404.5 L706.0,404.5" fill="none" stroke="#000000" stroke-width="2.2" stroke-linejoin="round" stroke-linecap="round" />
</g>
<rect x="124.5" y="7.8" width="582.2" height="427.2" fill="none" stroke="#000" stroke-width="2.3"/>
<line x1="124.5" y1="435.0" x2="124.5" y2="444.5" stroke="#000" stroke-width="2" />
<line x1="173.0" y1="435.0" x2="173.0" y2="440.0" stroke="#000" stroke-width="2" />
<line x1="221.5" y1="435.0" x2="221.5" y2="444.5" stroke="#000" stroke-width="2" />
<line x1="270.0" y1="435.0" x2="270.0" y2="440.0" stroke="#000" stroke-width="2" />
<line x1="318.5" y1="435.0" x2="318.5" y2="444.5" stroke="#000" stroke-width="2" />
<line x1="367.0" y1="435.0" x2="367.0" y2="440.0" stroke="#000" stroke-width="2" />
<line x1="415.5" y1="435.0" x2="415.5" y2="444.5" stroke="#000" stroke-width="2" />
<line x1="464.0" y1="435.0" x2="464.0" y2="440.0" stroke="#000" stroke-width="2" />
<line x1="512.5" y1="435.0" x2="512.5" y2="444.5" stroke="#000" stroke-width="2" />
<line x1="561.0" y1="435.0" x2="561.0" y2="440.0" stroke="#000" stroke-width="2" />
<line x1="609.5" y1="435.0" x2="609.5" y2="444.5" stroke="#000" stroke-width="2" />
<line x1="658.0" y1="435.0" x2="658.0" y2="440.0" stroke="#000" stroke-width="2" />
<line x1="706.5" y1="435.0" x2="706.5" y2="444.5" stroke="#000" stroke-width="2" />
<line x1="115.5" y1="411.8" x2="124.5" y2="411.8" stroke="#000" stroke-width="2" />
<line x1="119.5" y1="364.3" x2="124.5" y2="364.3" stroke="#000" stroke-width="2" />
<line x1="115.5" y1="316.8" x2="124.5" y2="316.8" stroke="#000" stroke-width="2" />
<line x1="119.5" y1="269.3" x2="124.5" y2="269.3" stroke="#000" stroke-width="2" />
<line x1="115.5" y1="221.8" x2="124.5" y2="221.8" stroke="#000" stroke-width="2" />
<line x1="119.5" y1="174.3" x2="124.5" y2="174.3" stroke="#000" stroke-width="2" />
<line x1="115.5" y1="126.8" x2="124.5" y2="126.8" stroke="#000" stroke-width="2" />
<line x1="119.5" y1="79.3" x2="124.5" y2="79.3" stroke="#000" stroke-width="2" />
<line x1="115.5" y1="31.8" x2="124.5" y2="31.8" stroke="#000" stroke-width="2" />
<line x1="407.6" y1="33.6" x2="461.2" y2="33.6" stroke="#000000" stroke-width="2.4" />
<line x1="407.6" y1="68.0" x2="461.2" y2="68.0" stroke="#ff0000" stroke-width="2.4" />
<line x1="407.6" y1="102.4" x2="461.2" y2="102.4" stroke="#ff00ff" stroke-width="2.4" />
<line x1="407.6" y1="136.7" x2="461.2" y2="136.7" stroke="#0000ff" stroke-width="2.4" />
<line x1="407.6" y1="171.1" x2="461.2" y2="171.1" stroke="#008000" stroke-width="2.4" />
<line x1="407.6" y1="205.5" x2="461.2" y2="205.5" stroke="#000080" stroke-width="2.4" />
<g clip-path="url(#cb)">
<line x1="921.0" y1="434.0" x2="975.0" y2="344.0" stroke="#000080" stroke-width="2" stroke-dasharray="10,9"/>
<line x1="1043.0" y1="434.0" x2="1153.5" y2="222.0" stroke="#000000" stroke-width="2" stroke-dasharray="10,9"/>
<line x1="1003.4" y1="434.0" x2="1092.0" y2="386.0" stroke="#ff0000" stroke-width="2" stroke-dasharray="10,9"/>
<line x1="1110.1" y1="434.0" x2="1190.0" y2="157.0" stroke="#008000" stroke-width="2" stroke-dasharray="10,9"/>
<line x1="1112.1" y1="434.0" x2="1168.0" y2="240.0" stroke="#0000ff" stroke-width="2" stroke-dasharray="10,9"/>
<line x1="1117.9" y1="434.0" x2="1170.5" y2="250.0" stroke="#ff00ff" stroke-width="2" stroke-dasharray="10,9"/>
<path d="M848.2,411.7 L849.8,411.3 L851.4,411.4 L853.0,410.8 L854.7,410.7 L856.3,410.2 L857.9,409.9 L859.5,410.0 L861.1,409.5 L862.8,409.2 L864.4,409.1 L866.0,408.9 L867.6,408.8 L869.3,408.3 L870.9,408.1 L872.5,408.4 L874.2,408.3 L875.8,408.0 L877.5,408.1 L879.1,408.1 L880.8,408.3 L882.4,408.3 L884.0,408.1 L885.7,407.8 L887.3,407.4 L888.9,407.2 L890.5,406.9 L892.2,406.7 L893.8,406.3 L895.4,406.4 L897.1,406.3 L898.7,406.4 L900.4,406.0 L902.0,406.2 L903.7,405.8 L905.3,406.1 L906.9,405.9 L908.6,405.7 L910.2,405.7 L911.8,405.3 L913.4,405.1 L915.1,405.1 L916.7,405.0 L918.3,404.8 L919.9,404.6 L921.5,404.6 L923.2,404.6 L924.8,404.6 L926.4,404.4 L928.0,404.4 L929.7,404.3 L931.5,404.0 L933.2,403.8 L934.9,403.8 L936.7,403.7 L938.4,403.4 L940.2,403.2 L941.9,402.9 L943.6,402.8 L945.4,402.5 L947.1,402.5 L948.8,402.4 L950.6,402.0 L952.3,402.3 L954.0,401.9 L955.8,402.0 L957.5,401.8 L959.3,401.7 L961.0,401.3 L962.7,401.2 L964.5,401.3 L966.2,400.8 L967.9,400.8 L969.7,401.0 L971.4,400.9 L973.1,401.0 L974.9,400.9 L976.6,400.8 L978.4,401.0 L980.1,400.7 L981.8,400.7 L983.6,400.7 L985.3,400.6 L986.9,400.5 L988.5,400.5 L990.2,400.4 L991.8,400.6 L993.4,400.4 L995.0,400.3 L996.6,400.1 L998.3,400.1 L999.9,400.1 L1001.5,400.1 L1003.1,400.1 L1004.8,400.2 L1006.4,400.2 L1008.0,399.9 L1009.6,399.7 L1011.3,399.6 L1013.0,399.6 L1014.6,399.2 L1016.2,399.1 L1017.9,399.0 L1019.5,398.6 L1021.2,398.5 L1022.8,398.6 L1024.5,398.4 L1026.1,398.1 L1027.8,397.7 L1029.5,397.9 L1031.1,397.7 L1032.8,397.7 L1034.4,397.6 L1036.1,397.4 L1037.8,397.1 L1039.4,396.9 L1041.1,396.8 L1042.7,396.8 L1044.4,396.7 L1046.0,396.4 L1047.7,396.3 L1049.4,396.2 L1051.0,396.0 L1052.7,395.7 L1054.4,395.8 L1056.0,395.4 L1057.7,394.9 L1059.3,394.9 L1061.0,394.9 L1062.7,394.4 L1064.3,394.4 L1066.0,393.9 L1067.7,393.7 L1069.4,393.6 L1071.1,393.2 L1072.8,392.9 L1074.5,392.4 L1076.2,392.2 L1077.8,391.9 L1079.5,391.5 L1081.2,391.3 L1082.9,391.0 L1084.6,390.8 L1086.3,390.3 L1088.0,390.0 L1089.7,389.1 L1091.5,388.4 L1093.2,388.0 L1094.9,387.0 L1096.6,386.3 L1098.3,385.6 L1100.1,385.0 L1101.8,384.4 L1103.5,383.3 L1105.2,382.4 L1106.9,381.1 L1108.7,380.1 L1110.4,379.4 L1112.1,378.2 L1113.8,377.4 L1115.5,376.2 L1117.1,375.2 L1118.8,374.2 L1120.4,373.2 L1122.1,372.5 L1123.7,371.4 L1125.4,370.3 L1127.0,369.4 L1128.6,368.0 L1130.3,366.6 L1131.9,365.6 L1133.5,364.2 L1135.1,363.0 L1136.8,361.5 L1138.4,360.3 L1140.0,358.5 L1141.7,356.7 L1143.3,355.5 L1145.0,353.8 L1146.6,352.0 L1148.3,350.6 L1149.9,348.9 L1151.5,347.1 L1153.2,345.6 L1154.8,344.1 L1156.5,342.2 L1158.1,340.8 L1159.8,338.8 L1161.4,336.8 L1163.1,337.1 L1164.7,333.8 L1166.3,333.0 L1168.0,334.4 L1169.9,330.9 L1171.7,330.5 L1173.6,326.3 L1175.4,323.9 L1177.2,322.7 L1178.9,319.9 L1180.7,321.3 L1182.5,316.3 L1184.3,315.5 L1186.2,315.0 L1188.1,318.4 L1190.0,319.3 L1191.9,320.9 L1193.7,318.8 L1195.6,318.4 L1197.4,320.9 L1199.3,318.2 L1201.1,317.1 L1202.9,312.0 L1204.7,307.5 L1206.6,302.4 L1208.4,296.6 L1210.2,294.5 L1212.5,291.9 L1214.8,290.0 L1216.7,300.4 L1218.6,308.1 L1220.5,317.7 L1222.4,328.2 L1224.4,305.1 L1226.5,284.5 L1228.5,264.1 L1231.0,259.4 L1233.1,280.8 L1235.0,294.2 L1236.9,308.1 L1238.9,320.2 L1240.8,334.6 L1243.0,319.0 L1245.3,307.1 L1247.6,301.1 L1249.5,293.7 L1251.5,287.6 L1254.3,277.3 L1255.6,271.0 L1257.2,277.6 L1259.1,277.3 L1261.0,286.0 L1262.9,288.3 L1264.8,290.9 L1267.7,307.1 L1270.1,303.8 L1272.4,301.3 L1274.8,304.7 L1277.2,308.7 L1278.9,308.2 L1280.6,307.6 L1282.2,307.4 L1283.9,306.7 L1285.8,306.1 L1287.7,305.4 L1289.6,304.5 L1291.5,303.9 L1293.4,304.1 L1295.3,304.5 L1297.3,305.2 L1299.2,305.3 L1301.1,305.9 L1303.0,305.1 L1304.9,304.7 L1306.8,304.1 L1308.7,303.6 L1310.6,302.9 L1312.2,302.3 L1313.9,301.8 L1315.5,301.3 L1317.2,300.7 L1318.8,300.4 L1320.5,299.6 L1322.1,299.2 L1323.7,298.3 L1325.4,297.1 L1327.0,296.1 L1328.6,295.0 L1330.2,293.5 L1331.9,292.5 L1333.5,291.3 L1335.1,291.4 L1336.8,291.1 L1338.4,290.8 L1340.1,290.6 L1341.7,290.5 L1343.4,290.3 L1345.0,289.9 L1346.7,289.9 L1348.3,289.4 L1350.0,289.2 L1351.7,288.7 L1353.3,288.4 L1355.0,288.5 L1356.6,288.1 L1358.3,287.8 L1359.9,287.4 L1361.6,287.2 L1363.2,287.2 L1364.9,287.1 L1366.5,287.0 L1368.2,286.9 L1369.8,286.6 L1371.7,285.6 L1373.6,284.5 L1375.5,283.2 L1377.4,282.3 L1379.3,281.0 L1380.9,280.5 L1382.5,279.6 L1384.1,279.1 L1385.7,278.5 L1387.3,277.8 L1388.9,277.0 L1390.6,277.3 L1392.2,277.2 L1393.9,276.9 L1395.6,276.7 L1397.2,277.0 L1398.9,276.8 L1400.5,276.5 L1402.2,276.5 L1404.1,276.2 L1406.0,276.2 L1408.0,275.7 L1409.9,275.7 L1411.8,275.4 L1413.7,275.6 L1415.6,276.3 L1417.5,276.7 L1419.4,277.3 L1421.1,277.0 L1422.8,276.5 L1424.5,276.1 L1426.1,276.1 L1427.8,275.6 L1429.5,275.3" fill="none" stroke="#ff0000" stroke-width="2.2" stroke-linejoin="round" stroke-linecap="round" />
<path d="M848.2,404.4 L849.8,404.3 L851.4,403.9 L853.0,403.7 L854.7,403.5 L856.3,403.1 L857.9,402.8 L859.5,402.3 L861.1,402.3 L862.8,401.8 L864.4,401.5 L866.0,401.4 L867.6,400.7 L869.3,400.6 L870.9,400.0 L872.5,400.2 L874.2,400.1 L875.8,399.8 L877.5,399.8 L879.1,399.9 L880.8,399.7 L882.4,399.5 L884.0,399.1 L885.7,398.8 L887.3,398.6 L888.9,398.4 L890.5,398.0 L892.2,397.8 L893.8,397.4 L895.4,397.5 L897.1,397.3 L898.7,397.0 L900.4,396.8 L902.0,396.7 L903.7,396.5 L905.3,396.6 L906.9,396.1 L908.6,395.9 L910.2,395.9 L911.8,395.4 L913.4,395.4 L915.1,395.0 L916.7,395.0 L918.3,394.8 L919.9,394.8 L921.5,394.5 L923.2,394.6 L924.8,394.5 L926.4,394.4 L928.0,394.4 L929.7,394.1 L931.5,393.4 L933.2,393.2 L934.9,392.9 L936.7,392.4 L938.4,392.0 L940.2,391.8 L941.9,391.4 L943.6,391.3 L945.4,390.8 L947.1,390.3 L948.8,390.3 L950.6,390.1 L952.3,389.9 L954.0,389.7 L955.8,389.4 L957.5,389.2 L959.3,389.5 L961.0,389.2 L962.7,388.8 L964.5,388.9 L966.2,388.8 L967.9,388.4 L969.7,387.9 L971.4,387.8 L973.1,387.6 L974.9,387.2 L976.6,387.1 L978.4,386.6 L980.1,386.7 L981.8,386.4 L983.6,386.1 L985.3,386.0 L987.2,385.2 L989.1,384.4 L991.0,383.7 L992.9,383.0 L994.8,382.3 L996.4,382.4 L998.1,382.2 L999.8,381.8 L1001.4,381.5 L1003.0,381.5 L1004.7,381.4 L1006.4,381.2 L1008.0,380.7 L1009.6,380.6 L1011.3,380.2 L1013.0,379.9 L1014.6,379.3 L1016.2,378.9 L1017.9,378.8 L1019.5,378.3 L1021.2,377.9 L1022.8,377.7 L1024.5,377.2 L1026.1,377.1 L1027.8,376.5 L1029.5,375.9 L1031.1,375.7 L1032.8,375.3 L1034.4,374.9 L1036.1,374.4 L1037.8,374.1 L1039.4,373.6 L1041.1,373.0 L1042.7,372.5 L1044.4,371.9 L1046.0,371.6 L1047.7,371.2 L1049.4,370.5 L1051.0,370.2 L1052.7,369.4 L1054.4,369.0 L1056.0,368.6 L1057.7,367.7 L1059.3,367.1 L1061.0,366.7 L1062.7,366.1 L1064.3,365.8 L1066.0,364.9 L1067.7,364.7 L1069.4,364.1 L1071.1,363.6 L1072.8,362.9 L1074.5,362.2 L1076.2,361.8 L1077.8,361.2 L1079.5,360.6 L1081.2,360.0 L1082.9,359.5 L1084.6,359.1 L1086.3,358.6 L1088.0,358.1 L1089.7,357.2 L1091.5,356.7 L1093.2,356.2 L1094.9,355.7 L1096.6,355.0 L1098.3,354.4 L1100.1,353.8 L1101.8,353.3 L1103.5,352.7 L1105.2,352.2 L1106.9,351.4 L1108.7,350.7 L1110.4,350.0 L1112.1,349.3 L1113.8,348.4 L1115.5,347.7 L1117.1,346.6 L1118.8,346.0 L1120.4,345.2 L1122.1,344.3 L1123.7,343.6 L1125.4,342.9 L1127.0,341.9 L1128.6,340.4 L1130.2,338.6 L1131.8,337.0 L1133.4,335.7 L1135.0,333.7 L1137.3,328.6 L1139.6,323.7 L1141.3,317.8 L1143.0,311.9 L1145.3,305.3 L1147.6,298.2 L1149.9,291.5 L1152.2,284.6 L1153.9,279.8 L1155.7,275.1 L1157.4,270.2 L1159.2,265.3 L1160.9,260.5 L1162.7,256.1 L1164.4,251.1 L1166.2,245.4 L1168.1,240.3 L1169.9,234.5 L1171.8,228.9 L1173.6,223.6 L1175.4,220.4 L1177.2,217.5 L1179.1,214.4 L1180.9,211.2 L1182.7,208.3 L1184.8,204.1 L1186.8,200.2 L1188.9,196.1 L1190.6,192.5 L1192.2,189.1 L1193.9,185.5 L1195.5,182.1 L1197.2,179.7 L1198.9,174.9 L1200.6,171.3 L1202.4,167.4 L1204.1,161.9 L1205.8,160.0 L1207.5,155.3 L1209.2,149.8 L1211.0,147.5 L1212.7,142.5 L1214.4,137.9 L1216.2,134.1 L1218.0,127.4 L1219.8,122.2 L1221.6,114.9 L1223.5,106.9 L1225.4,95.7 L1227.3,86.6 L1229.2,89.8 L1231.1,91.8 L1233.0,96.0 L1235.9,98.0 L1238.7,123.9 L1240.8,119.2 L1243.0,112.8 L1245.2,108.2 L1247.3,101.8 L1250.2,85.3 L1253.0,93.1 L1255.9,108.3 L1257.6,109.1 L1259.2,108.4 L1260.9,110.7 L1262.6,110.7 L1264.2,112.7 L1265.9,113.1 L1267.6,112.0 L1269.3,110.6 L1271.1,109.5 L1272.8,108.5 L1274.5,107.5 L1276.2,106.7 L1277.9,105.7 L1279.7,105.2 L1281.4,104.3 L1283.1,103.8 L1284.8,103.9 L1286.5,103.5 L1288.3,103.8 L1290.0,103.6 L1291.7,103.3 L1293.4,103.1 L1295.1,103.1 L1296.8,103.2 L1298.5,103.0 L1300.2,102.7 L1301.9,102.5 L1303.6,102.4 L1305.3,102.6 L1306.9,102.2 L1308.6,102.2 L1310.2,101.9 L1311.8,101.9 L1313.5,101.6 L1315.1,101.3 L1316.8,101.4 L1318.4,101.1 L1320.0,101.0 L1321.7,100.8 L1323.3,100.7 L1324.9,100.1 L1326.6,100.1 L1328.2,99.8 L1329.8,99.9 L1331.5,99.9 L1333.1,99.8 L1334.7,99.4 L1336.4,99.3 L1338.0,99.5 L1339.7,99.3 L1341.3,99.1 L1342.9,99.0 L1344.6,98.8 L1346.2,99.0 L1347.8,98.7 L1349.5,98.8 L1351.1,98.5 L1352.7,98.4 L1354.4,98.5 L1356.0,98.5 L1357.6,98.9 L1359.3,98.8 L1360.9,98.6 L1362.5,98.8 L1364.2,98.9 L1365.8,99.0 L1367.5,99.1 L1369.1,99.1 L1370.7,99.1 L1372.4,99.0 L1374.0,99.3 L1375.6,99.6 L1377.3,99.8 L1378.9,100.3 L1380.5,100.9 L1382.2,100.8 L1383.8,101.2 L1385.5,101.7 L1387.1,101.9 L1388.7,102.2 L1390.4,102.7 L1392.0,102.9 L1393.6,103.4 L1395.3,103.7 L1396.9,104.2 L1398.6,104.8 L1400.3,105.0 L1402.0,105.9 L1403.7,106.6 L1405.4,107.3 L1407.1,107.9 L1408.8,108.4 L1410.5,109.0 L1412.2,109.5 L1413.9,110.2 L1415.7,111.1 L1417.4,111.8 L1419.1,112.5 L1420.8,113.1 L1422.6,113.6 L1424.3,114.5 L1426.0,115.1 L1427.8,115.7 L1429.5,116.4" fill="none" stroke="#ff00ff" stroke-width="2.2" stroke-linejoin="round" stroke-linecap="round" />
<path d="M848.2,384.8 L850.0,384.4 L851.7,383.9 L853.5,383.6 L855.3,383.1 L857.0,382.5 L858.8,382.2 L860.6,381.8 L862.3,381.6 L864.1,381.0 L865.8,380.5 L867.6,380.0 L869.3,379.6 L871.0,379.2 L872.8,378.7 L874.5,378.2 L876.3,378.2 L878.0,377.6 L879.7,377.1 L881.5,376.8 L883.2,376.2 L884.9,375.6 L886.6,374.9 L888.2,374.5 L889.9,373.9 L891.6,373.5 L893.3,372.8 L895.0,372.4 L896.6,371.6 L898.3,371.3 L900.0,370.5 L901.7,369.8 L903.4,369.4 L905.1,369.1 L906.8,368.8 L908.5,368.1 L910.2,367.8 L911.9,367.2 L913.6,366.9 L915.3,366.1 L917.0,365.9 L918.7,365.7 L920.4,365.1 L922.1,364.7 L923.7,364.2 L925.4,363.9 L927.1,363.6 L928.8,363.4 L930.5,362.8 L932.2,362.5 L933.9,362.1 L935.6,361.9 L937.3,361.7 L939.0,361.2 L940.7,360.7 L942.4,360.6 L944.1,360.3 L945.8,359.8 L947.6,359.3 L949.3,359.3 L951.1,359.0 L952.9,358.4 L954.7,358.0 L956.5,357.6 L958.2,357.5 L960.0,357.3 L961.6,357.0 L963.3,357.1 L964.9,356.6 L966.6,356.6 L968.2,356.6 L969.9,356.5 L971.5,356.3 L973.1,356.2 L974.8,355.8 L976.4,355.5 L978.0,355.4 L979.6,355.0 L981.3,355.1 L982.9,354.7 L984.5,354.5 L986.2,354.3 L987.8,353.9 L989.5,353.7 L991.1,353.2 L992.8,353.4 L994.4,352.9 L996.1,352.9 L997.8,352.3 L999.5,352.4 L1001.2,352.2 L1002.9,351.9 L1004.6,351.6 L1006.3,351.4 L1008.0,351.2 L1009.6,351.1 L1011.3,350.3 L1013.0,350.2 L1014.6,349.6 L1016.2,349.2 L1017.9,348.7 L1019.5,348.3 L1021.2,347.9 L1022.8,347.4 L1024.5,346.8 L1026.1,346.6 L1027.8,345.9 L1029.5,345.8 L1031.1,345.5 L1032.8,345.2 L1034.4,344.6 L1036.1,344.5 L1037.8,344.3 L1039.4,343.8 L1041.1,343.4 L1042.7,343.2 L1044.4,343.0 L1046.0,342.4 L1047.7,342.0 L1049.4,341.7 L1051.0,341.3 L1052.7,340.9 L1054.4,340.2 L1056.0,340.0 L1057.7,339.2 L1059.3,338.9 L1061.0,338.2 L1062.7,337.7 L1064.3,337.2 L1066.0,336.7 L1067.7,336.5 L1069.4,336.1 L1071.1,335.5 L1072.8,335.5 L1074.5,334.8 L1076.2,334.3 L1077.8,333.9 L1079.5,333.7 L1081.2,333.4 L1082.9,332.7 L1084.6,332.2 L1086.3,332.1 L1088.0,331.5 L1089.7,331.4 L1091.5,330.7 L1093.2,330.3 L1094.9,329.8 L1096.6,329.5 L1098.3,329.0 L1100.1,328.5 L1101.8,328.3 L1103.5,327.5 L1105.2,327.4 L1106.9,326.6 L1108.7,326.5 L1110.4,325.9 L1112.1,325.7 L1113.8,324.9 L1115.5,324.7 L1117.2,323.9 L1119.0,323.5 L1120.7,322.8 L1122.4,321.9 L1124.1,321.0 L1125.8,320.3 L1127.6,319.6 L1129.3,319.0 L1131.1,317.3 L1132.9,315.6 L1134.8,314.3 L1136.6,312.6 L1138.4,310.8 L1140.3,307.7 L1142.3,303.9 L1144.2,300.6 L1146.5,295.9 L1148.7,291.7 L1150.6,287.8 L1152.6,283.7 L1154.5,280.1 L1156.2,272.6 L1158.0,264.9 L1159.6,259.9 L1161.2,255.0 L1162.8,250.2 L1164.4,244.9 L1166.4,240.0 L1168.5,234.8 L1170.5,229.7 L1172.3,227.3 L1174.2,225.0 L1176.0,222.3 L1177.9,220.1 L1179.7,217.4 L1181.5,213.3 L1183.4,209.1 L1185.2,204.5 L1187.1,200.5 L1188.9,196.3 L1190.6,192.0 L1192.2,187.9 L1193.9,183.9 L1195.5,182.1 L1197.2,173.8 L1198.8,174.1 L1200.5,167.1 L1202.1,166.0 L1203.8,159.5 L1205.4,156.1 L1207.1,154.7 L1208.7,148.4 L1210.4,145.5 L1212.1,144.0 L1213.9,139.2 L1215.6,135.9 L1217.3,132.3 L1219.0,126.4 L1220.7,125.6 L1222.4,126.3 L1224.1,124.2 L1225.8,119.6 L1227.5,122.8 L1229.2,122.7 L1231.0,124.7 L1232.7,124.4 L1234.4,125.2 L1236.1,127.7 L1237.8,123.1 L1239.6,123.8 L1241.3,118.8 L1243.0,118.6 L1244.7,117.1 L1246.4,118.4 L1248.2,117.3 L1249.9,119.5 L1251.6,117.2 L1253.3,120.3 L1255.0,119.9 L1256.8,118.7 L1258.5,120.4 L1260.2,121.6 L1261.9,122.9 L1263.6,119.8 L1265.4,119.7 L1267.1,119.5 L1268.8,118.9 L1270.4,118.6 L1272.1,118.2 L1273.7,118.0 L1275.3,117.8 L1276.9,117.5 L1278.6,117.3 L1280.2,117.3 L1281.8,117.4 L1283.5,117.6 L1285.1,117.6 L1286.7,117.6 L1288.4,118.0 L1290.0,118.1 L1291.6,117.9 L1293.3,117.7 L1294.9,117.6 L1296.5,117.6 L1298.2,117.3 L1299.8,117.1 L1301.5,116.8 L1303.1,116.6 L1304.7,116.5 L1306.4,116.6 L1308.0,116.1 L1309.6,116.0 L1311.3,115.8 L1312.9,115.5 L1314.5,115.8 L1316.2,115.2 L1317.8,115.3 L1319.4,115.2 L1321.1,114.8 L1322.7,114.8 L1324.3,114.5 L1326.0,114.3 L1327.6,114.1 L1329.3,113.9 L1330.9,114.0 L1332.5,113.9 L1334.2,113.7 L1335.8,113.2 L1337.5,113.3 L1339.2,113.0 L1340.9,113.0 L1342.6,112.8 L1344.3,112.5 L1346.0,112.6 L1347.7,112.0 L1349.4,112.2 L1351.1,112.1 L1352.8,112.2 L1354.5,112.6 L1356.2,113.1 L1357.9,113.1 L1359.6,113.6 L1361.3,114.0 L1363.0,114.2 L1364.7,114.7 L1366.4,114.9 L1368.0,115.0 L1369.7,115.1 L1371.3,115.1 L1372.9,115.1 L1374.6,115.2 L1376.2,115.3 L1377.8,115.2 L1379.5,115.4 L1381.1,115.3 L1382.8,115.7 L1384.4,115.5 L1386.0,115.7 L1387.7,115.7 L1389.3,115.7 L1391.0,116.0 L1392.7,116.4 L1394.4,117.2 L1396.1,117.4 L1397.8,117.8 L1399.5,118.2 L1401.2,118.8 L1402.9,119.0 L1404.6,119.4 L1406.3,120.1 L1407.9,120.4 L1409.6,120.9 L1411.2,121.5 L1412.9,122.0 L1414.6,122.4 L1416.2,122.5 L1417.9,123.1 L1419.5,123.8 L1421.2,124.2 L1422.9,124.4 L1424.5,124.9 L1426.2,125.4 L1427.8,125.8 L1429.5,126.4" fill="none" stroke="#0000ff" stroke-width="2.2" stroke-linejoin="round" stroke-linecap="round" />
<path d="M848.2,417.4 L850.1,416.8 L851.9,416.4 L853.8,415.7 L855.6,415.1 L857.5,414.0 L859.5,413.2 L861.4,412.5 L863.3,411.4 L865.2,410.3 L867.1,409.4 L869.0,408.6 L870.9,407.6 L872.5,407.0 L874.2,406.9 L875.8,406.5 L877.5,406.2 L879.1,405.7 L880.8,405.5 L882.4,405.1 L884.0,404.6 L885.7,403.9 L887.3,403.4 L888.9,403.1 L890.5,402.3 L892.2,401.8 L893.8,401.5 L895.4,401.0 L897.1,400.7 L898.7,400.3 L900.4,400.2 L902.0,399.6 L903.7,399.5 L905.3,399.3 L906.9,398.4 L908.6,398.0 L910.2,397.6 L911.8,397.0 L913.4,396.3 L915.1,395.6 L916.7,395.3 L918.3,394.7 L919.9,394.3 L921.5,393.6 L923.2,393.1 L924.8,392.7 L926.4,392.2 L928.0,391.4 L929.7,391.0 L931.5,390.7 L933.2,390.4 L934.9,389.6 L936.7,389.5 L938.4,389.0 L940.2,388.4 L941.9,388.1 L943.6,387.5 L945.4,386.9 L947.1,386.8 L948.8,386.2 L950.6,385.9 L952.3,385.4 L954.0,385.2 L955.8,384.7 L957.5,383.9 L959.3,383.7 L961.0,383.3 L962.7,382.8 L964.5,382.6 L966.2,382.0 L967.9,381.5 L969.7,381.1 L971.4,380.4 L973.1,379.9 L974.9,379.4 L976.6,379.0 L978.4,378.4 L980.1,377.9 L981.8,377.2 L983.6,376.5 L985.3,376.3 L986.9,375.8 L988.5,375.4 L990.2,375.0 L991.8,374.3 L993.4,373.9 L995.0,373.4 L996.6,373.2 L998.3,372.5 L999.9,372.0 L1001.5,371.9 L1003.1,371.4 L1004.8,370.7 L1006.4,370.5 L1008.0,370.1 L1009.6,369.7 L1011.3,369.1 L1013.0,369.1 L1014.6,368.6 L1016.2,368.3 L1017.9,368.2 L1019.5,367.7 L1021.2,367.4 L1022.8,366.8 L1024.5,366.5 L1026.1,366.2 L1027.8,365.7 L1029.5,365.5 L1031.1,364.7 L1032.8,364.1 L1034.4,363.5 L1036.1,362.9 L1037.8,362.6 L1039.4,361.9 L1041.1,361.3 L1042.7,360.7 L1044.4,360.0 L1046.0,359.5 L1047.7,359.2 L1049.4,358.4 L1051.0,357.6 L1052.7,356.6 L1054.4,355.8 L1056.0,355.0 L1057.7,354.4 L1059.3,353.6 L1061.0,352.9 L1062.7,352.1 L1064.3,351.4 L1066.0,350.5 L1067.7,349.9 L1069.4,348.8 L1071.1,348.2 L1072.8,347.2 L1074.5,346.2 L1076.2,345.4 L1077.8,344.7 L1079.5,343.8 L1081.2,343.0 L1082.9,342.1 L1084.6,341.2 L1086.3,340.6 L1088.0,339.5 L1089.7,338.8 L1091.5,338.0 L1093.2,337.1 L1094.9,336.2 L1096.6,335.2 L1098.3,333.9 L1100.1,332.9 L1101.8,331.4 L1103.5,330.7 L1105.2,329.9 L1106.9,328.8 L1108.7,328.3 L1110.4,327.1 L1112.1,326.5 L1113.8,325.4 L1115.5,324.9 L1117.2,323.7 L1119.0,322.8 L1120.7,321.7 L1122.4,320.8 L1124.1,319.8 L1125.8,318.6 L1127.6,317.6 L1129.3,316.8 L1130.9,314.7 L1132.5,313.2 L1134.1,311.1 L1135.7,309.2 L1137.3,307.3 L1139.2,303.8 L1141.1,300.0 L1143.0,296.0 L1145.3,290.4 L1147.6,284.5 L1149.9,281.7 L1152.2,278.6 L1154.2,272.2 L1156.3,266.1 L1158.3,260.3 L1160.3,252.9 L1162.4,246.1 L1164.4,238.8 L1166.4,233.7 L1168.5,228.7 L1170.5,223.5 L1172.8,220.6 L1175.1,217.3 L1177.4,216.1 L1179.7,214.3 L1182.0,208.5 L1184.3,202.0 L1186.6,196.2 L1188.9,190.2 L1190.6,186.6 L1192.2,183.0 L1193.9,179.8 L1195.5,177.1 L1197.2,171.9 L1198.9,170.4 L1200.6,165.6 L1202.4,164.4 L1204.1,162.7 L1205.8,158.5 L1207.4,157.1 L1209.1,152.2 L1210.7,152.9 L1212.4,147.3 L1214.0,148.4 L1215.7,146.2 L1217.3,143.5 L1219.0,142.3 L1220.7,141.8 L1222.4,142.7 L1224.1,145.0 L1225.8,144.5 L1227.5,145.2 L1229.2,140.4 L1231.0,141.0 L1232.7,141.5 L1234.4,139.1 L1236.1,132.0 L1237.8,123.2 L1239.6,116.5 L1241.3,110.3 L1243.0,106.1 L1244.9,109.7 L1246.8,110.8 L1248.7,117.7 L1250.6,110.9 L1252.6,110.6 L1254.5,109.4 L1256.2,106.3 L1257.9,108.7 L1259.7,107.1 L1261.4,104.1 L1263.1,105.1 L1264.7,105.2 L1266.4,104.9 L1268.0,104.7 L1269.6,104.1 L1271.2,103.9 L1272.9,103.3 L1274.5,102.8 L1276.2,103.4 L1277.9,103.6 L1279.7,104.2 L1281.4,104.7 L1283.1,105.0 L1284.8,105.3 L1286.6,105.5 L1288.3,106.1 L1290.0,106.3 L1291.7,106.2 L1293.4,105.7 L1295.1,105.5 L1296.8,105.1 L1298.5,104.8 L1300.2,104.6 L1301.9,104.0 L1303.6,103.7 L1305.3,103.7 L1306.9,103.2 L1308.6,103.2 L1310.2,103.0 L1311.8,102.6 L1313.5,102.2 L1315.1,102.0 L1316.8,102.1 L1318.4,101.6 L1320.0,101.5 L1321.7,101.3 L1323.3,100.9 L1324.9,100.8 L1326.6,100.5 L1328.2,100.4 L1329.8,100.3 L1331.5,100.1 L1333.1,99.9 L1334.7,99.9 L1336.4,99.7 L1338.0,99.6 L1339.7,99.5 L1341.3,99.7 L1342.9,99.4 L1344.6,99.5 L1346.2,99.0 L1347.8,99.3 L1349.5,99.0 L1351.1,99.0 L1352.7,99.0 L1354.4,99.1 L1356.0,98.9 L1357.6,99.2 L1359.3,99.0 L1360.9,99.1 L1362.5,99.0 L1364.2,99.3 L1365.8,99.4 L1367.5,99.3 L1369.1,99.6 L1370.7,99.3 L1372.4,99.6 L1374.0,99.5 L1375.6,100.0 L1377.3,100.4 L1378.9,100.7 L1380.5,100.7 L1382.2,101.1 L1383.8,101.6 L1385.5,102.1 L1387.1,102.0 L1388.7,102.6 L1390.4,103.0 L1392.0,103.4 L1393.6,103.5 L1395.3,104.0 L1396.9,104.2 L1398.6,105.0 L1400.3,105.2 L1402.0,106.2 L1403.7,106.6 L1405.4,107.2 L1407.1,107.6 L1408.8,108.3 L1410.5,109.1 L1412.2,109.7 L1413.9,110.1 L1415.7,110.9 L1417.4,111.5 L1419.1,112.2 L1420.8,112.9 L1422.6,113.6 L1424.3,114.6 L1426.0,115.3 L1427.8,115.8 L1429.5,116.4" fill="none" stroke="#008000" stroke-width="2.2" stroke-linejoin="round" stroke-linecap="round" />
<path d="M848.2,386.5 L849.9,386.1 L851.5,385.7 L853.2,385.5 L854.9,385.2 L856.5,384.7 L858.2,384.3 L859.9,383.7 L861.5,383.5 L863.2,383.2 L864.9,382.8 L866.5,382.1 L868.2,382.0 L869.9,381.5 L871.5,381.0 L873.2,381.0 L874.9,380.5 L876.5,380.1 L878.2,379.5 L879.9,379.4 L881.5,379.1 L883.2,378.7 L884.9,378.3 L886.6,378.0 L888.2,377.7 L889.9,377.3 L891.6,376.9 L893.3,376.8 L895.0,376.5 L896.6,376.2 L898.3,375.6 L900.0,375.6 L901.7,375.1 L903.4,374.9 L905.1,374.2 L906.8,374.2 L908.5,373.8 L910.2,373.2 L911.9,373.1 L913.6,372.5 L915.3,372.2 L917.0,371.7 L918.7,371.1 L920.4,370.6 L922.1,370.3 L923.7,369.6 L925.4,369.1 L927.1,368.4 L928.8,368.0 L930.5,367.4 L932.2,366.9 L933.9,366.5 L935.6,366.0 L937.3,365.3 L939.0,364.7 L940.7,364.5 L942.4,364.1 L944.1,363.4 L945.8,363.0 L947.6,362.2 L949.5,361.3 L951.3,360.1 L953.2,359.4 L955.0,358.3 L956.7,357.2 L958.3,356.4 L960.0,355.2 L961.9,353.9 L963.8,352.5 L965.7,351.1 L967.6,349.7 L969.5,347.8 L971.5,346.2 L973.4,344.2 L975.3,342.1 L977.2,339.7 L979.1,337.5 L981.0,335.5 L982.9,333.1 L986.0,328.1 L988.0,323.9 L990.1,319.3 L991.8,317.3 L993.6,314.7 L995.3,312.7 L997.0,309.6 L998.7,306.8 L1000.4,304.2 L1002.1,301.1 L1003.9,298.2 L1005.6,295.7 L1007.3,292.7 L1009.0,289.9 L1010.7,286.9 L1012.4,284.3 L1014.2,281.8 L1015.9,279.0 L1018.0,275.7 L1020.1,271.9 L1021.8,270.1 L1023.4,267.7 L1025.1,265.8 L1026.8,263.5 L1028.4,261.5 L1030.1,259.8 L1031.7,257.5 L1033.4,255.6 L1035.1,253.7 L1036.8,252.0 L1038.4,250.2 L1040.1,248.7 L1041.8,247.1 L1043.5,245.2 L1045.1,243.5 L1046.8,242.0 L1048.5,240.4 L1050.2,238.8 L1051.8,237.0 L1053.5,235.8 L1055.2,234.2 L1056.8,232.9 L1058.5,231.1 L1060.2,229.7 L1061.9,228.3 L1063.5,226.8 L1065.2,225.5 L1066.8,224.2 L1068.5,223.0 L1070.2,221.4 L1071.8,220.0 L1073.5,218.9 L1075.2,217.3 L1076.8,216.5 L1078.5,215.3 L1080.2,214.1 L1081.9,212.9 L1083.6,211.8 L1085.2,210.7 L1086.9,209.5 L1088.5,208.3 L1090.2,206.8 L1091.8,205.8 L1093.5,204.5 L1095.1,203.7 L1096.7,202.5 L1098.4,201.0 L1100.0,200.0 L1101.7,198.5 L1103.4,196.8 L1105.1,195.5 L1106.8,194.1 L1108.4,192.6 L1110.1,190.9 L1111.8,189.6 L1113.5,187.9 L1115.2,186.5 L1116.9,185.2 L1118.6,184.2 L1120.3,182.7 L1122.0,181.5 L1123.6,180.2 L1125.3,178.8 L1127.0,177.8 L1128.7,176.4 L1130.4,175.1 L1132.0,174.1 L1133.6,173.2 L1135.2,172.5 L1136.9,171.8 L1138.5,171.0 L1140.1,169.9 L1141.7,169.0 L1143.4,168.3 L1145.0,167.6 L1146.6,166.4 L1148.2,165.8 L1149.9,164.7 L1151.5,163.9 L1153.2,163.2 L1155.0,162.8 L1156.7,162.2 L1158.4,161.9 L1160.2,160.1 L1162.1,157.9 L1163.9,156.2 L1165.8,154.6 L1167.6,152.5 L1169.3,150.5 L1171.0,148.6 L1172.7,146.4 L1174.4,144.5 L1176.7,146.3 L1179.0,147.9 L1181.0,153.3 L1182.9,155.2 L1184.8,151.2 L1186.7,149.5 L1188.6,144.4 L1190.5,141.7 L1192.5,137.2 L1194.4,133.8 L1196.3,133.4 L1198.3,134.0 L1200.6,135.0 L1202.9,133.3 L1204.8,129.0 L1206.7,124.8 L1208.6,131.2 L1210.5,135.8 L1212.8,126.9 L1215.1,119.5 L1217.4,122.1 L1219.7,125.2 L1222.0,123.1 L1224.3,119.0 L1227.3,137.3 L1229.6,124.4 L1231.9,116.1 L1234.2,124.4 L1236.5,133.0 L1238.8,128.6 L1241.1,120.5 L1243.3,128.1 L1245.6,135.2 L1248.7,104.5 L1251.0,111.3 L1253.3,117.1 L1255.6,114.1 L1257.9,113.0 L1260.2,113.2 L1262.4,116.0 L1264.4,116.0 L1266.5,114.8 L1268.5,113.7 L1270.6,113.2 L1272.6,112.7 L1274.7,112.1 L1276.5,111.9 L1278.2,111.5 L1280.0,110.9 L1281.7,111.2 L1283.3,111.7 L1285.0,111.7 L1286.7,111.9 L1288.3,112.5 L1290.0,112.6 L1291.6,112.4 L1293.3,112.3 L1294.9,112.3 L1296.5,111.8 L1298.2,111.7 L1299.8,111.4 L1301.5,111.4 L1303.1,111.3 L1304.7,111.3 L1306.4,111.0 L1308.0,110.8 L1309.6,110.6 L1311.3,110.5 L1312.9,110.2 L1314.5,110.3 L1316.2,110.1 L1317.8,109.9 L1319.4,109.4 L1321.1,109.4 L1322.7,109.3 L1324.3,109.0 L1326.0,109.0 L1327.6,108.8 L1329.3,108.5 L1330.9,108.4 L1332.5,108.1 L1334.2,108.1 L1335.8,107.5 L1337.4,107.8 L1339.1,107.8 L1340.7,107.7 L1342.3,107.6 L1344.0,107.5 L1345.6,107.7 L1347.2,107.8 L1348.9,107.6 L1350.5,107.6 L1352.2,107.6 L1353.8,107.5 L1355.4,107.8 L1357.1,107.9 L1358.7,107.8 L1360.3,107.8 L1362.0,108.1 L1363.6,107.9 L1365.2,108.4 L1366.9,108.3 L1368.5,108.3 L1370.2,108.7 L1371.8,108.6 L1373.4,108.8 L1375.1,108.9 L1376.7,109.2 L1378.3,109.4 L1380.0,109.6 L1381.6,109.4 L1383.2,110.1 L1384.9,110.1 L1386.5,110.5 L1388.2,111.0 L1389.8,111.2 L1391.5,111.5 L1393.1,111.9 L1394.7,112.1 L1396.4,112.7 L1398.0,112.8 L1399.7,113.4 L1401.3,113.7 L1403.0,113.9 L1404.6,114.0 L1406.3,114.8 L1407.9,114.9 L1409.6,115.6 L1411.2,116.0 L1412.9,116.3 L1414.6,117.0 L1416.2,117.5 L1417.9,117.9 L1419.5,118.2 L1421.2,118.7 L1422.9,119.2 L1424.5,119.5 L1426.2,120.3 L1427.8,120.8 L1429.5,121.0" fill="none" stroke="#000080" stroke-width="2.2" stroke-linejoin="round" stroke-linecap="round" />
<path d="M848.2,385.8 L849.9,385.6 L851.5,385.3 L853.2,384.6 L854.9,384.6 L856.5,383.8 L858.2,383.6 L859.9,383.1 L861.5,382.9 L863.2,382.6 L864.9,382.3 L866.5,381.8 L868.2,381.4 L869.9,381.0 L871.5,380.7 L873.2,380.3 L874.9,379.9 L876.5,379.8 L878.2,379.3 L879.9,378.9 L881.5,378.4 L883.2,378.3 L884.9,377.8 L886.6,377.5 L888.2,377.3 L889.9,377.0 L891.6,376.9 L893.3,376.4 L895.0,376.2 L896.6,375.9 L898.3,375.5 L900.0,375.2 L901.7,374.6 L903.4,374.3 L905.1,373.9 L906.8,373.9 L908.5,373.5 L910.2,373.2 L911.9,372.7 L913.6,372.4 L915.3,372.0 L917.0,371.6 L918.7,371.2 L920.4,370.3 L922.1,369.7 L923.7,369.2 L925.4,368.7 L927.1,368.4 L928.8,367.8 L930.5,367.1 L932.2,366.5 L933.9,366.0 L935.6,365.5 L937.3,365.4 L939.0,364.8 L940.7,364.5 L942.4,364.0 L944.1,363.5 L945.8,362.9 L947.6,362.3 L949.5,361.2 L951.3,360.4 L953.2,359.8 L955.0,359.0 L956.8,358.0 L958.5,357.1 L960.3,356.0 L962.0,355.5 L963.8,354.5 L965.7,353.4 L967.6,352.3 L969.6,350.9 L971.5,349.9 L973.1,348.9 L974.8,348.3 L976.4,347.5 L978.0,346.4 L979.6,345.5 L981.3,344.8 L982.9,344.1 L984.5,343.1 L986.2,342.0 L987.8,341.5 L989.5,340.5 L991.1,339.4 L992.8,338.3 L994.4,337.8 L996.0,336.7 L997.7,335.7 L999.3,334.9 L1000.9,334.2 L1002.5,333.4 L1004.2,332.4 L1005.8,331.6 L1007.6,330.2 L1009.3,329.0 L1011.1,328.1 L1012.9,326.7 L1014.7,325.4 L1016.5,324.4 L1018.2,323.0 L1020.0,321.9 L1021.7,320.6 L1023.4,319.3 L1025.0,317.9 L1026.7,316.6 L1028.4,315.1 L1030.1,313.6 L1031.7,312.5 L1033.4,310.8 L1035.1,309.9 L1036.8,308.8 L1038.4,307.8 L1040.1,306.7 L1041.8,305.4 L1043.5,304.5 L1045.1,303.4 L1046.8,302.2 L1048.5,301.0 L1050.2,300.2 L1051.8,299.0 L1053.5,297.7 L1055.2,296.7 L1056.9,295.9 L1058.5,294.5 L1060.2,293.5 L1061.8,292.6 L1063.5,291.6 L1065.1,290.5 L1066.8,289.5 L1068.4,288.2 L1070.0,287.2 L1071.7,286.5 L1073.3,285.4 L1074.9,284.1 L1076.6,283.1 L1078.2,282.1 L1079.9,281.4 L1081.5,280.1 L1083.2,279.1 L1084.9,278.1 L1086.5,276.8 L1088.2,275.8 L1089.9,274.3 L1091.6,273.1 L1093.3,271.9 L1095.0,271.1 L1096.6,269.6 L1098.3,268.9 L1100.0,267.6 L1101.7,266.3 L1103.3,265.5 L1105.0,264.2 L1106.7,263.3 L1108.3,262.0 L1110.0,261.3 L1111.7,260.3 L1113.3,259.2 L1115.0,257.8 L1116.8,256.8 L1118.5,255.4 L1120.2,254.2 L1122.0,252.8 L1123.8,251.5 L1125.5,250.2 L1127.2,248.9 L1129.0,247.3 L1130.8,246.2 L1132.7,245.3 L1134.5,244.0 L1136.4,242.9 L1138.2,241.6 L1140.1,240.8 L1141.8,238.2 L1143.5,236.2 L1145.3,233.9 L1147.0,231.5 L1149.2,227.9 L1151.5,224.8 L1153.8,220.0 L1156.1,215.5 L1158.4,208.5 L1160.7,202.0 L1163.0,196.1 L1165.3,190.2 L1167.5,186.1 L1169.8,182.4 L1172.0,180.0 L1174.3,176.8 L1176.7,171.9 L1179.0,169.4 L1181.3,165.8 L1183.6,163.5 L1185.3,158.6 L1187.0,156.3 L1189.2,148.1 L1191.5,138.6 L1193.4,131.3 L1195.3,126.0 L1197.2,120.7 L1199.1,119.2 L1201.0,116.1 L1202.9,113.0 L1204.8,110.5 L1206.8,108.0 L1208.7,106.1 L1210.6,104.7 L1212.5,103.9 L1214.4,102.1 L1216.6,103.7 L1218.7,105.4 L1221.6,88.0 L1224.4,102.0 L1226.6,87.5 L1228.7,76.2 L1231.6,68.0 L1233.9,78.4 L1235.9,66.6 L1238.7,75.0 L1240.8,82.6 L1243.0,87.1 L1245.2,83.4 L1247.3,78.0 L1250.2,75.3 L1253.0,81.1 L1255.2,86.8 L1257.3,91.9 L1260.2,95.7 L1262.3,94.1 L1264.5,90.5 L1266.7,85.4 L1268.8,79.2 L1270.9,75.9 L1273.1,73.1 L1274.9,73.4 L1276.7,73.5 L1278.4,73.8 L1280.2,74.3 L1281.8,74.1 L1283.5,74.2 L1285.1,74.5 L1286.7,74.6 L1288.4,74.3 L1290.0,74.5 L1291.6,74.4 L1293.3,74.2 L1294.9,74.0 L1296.5,73.8 L1298.2,73.4 L1299.8,73.6 L1301.5,73.2 L1303.1,73.1 L1304.7,72.9 L1306.4,72.8 L1308.0,72.8 L1309.6,72.3 L1311.3,72.3 L1312.9,72.2 L1314.6,71.3 L1316.3,70.7 L1318.0,69.6 L1319.7,69.0 L1321.4,68.1 L1323.1,67.4 L1324.8,66.2 L1326.5,65.5 L1328.2,64.7 L1329.8,64.9 L1331.5,64.5 L1333.1,64.5 L1334.7,64.7 L1336.4,64.8 L1338.0,64.4 L1339.7,64.4 L1341.3,64.5 L1342.9,64.4 L1344.6,64.4 L1346.2,64.4 L1347.8,64.1 L1349.5,64.0 L1351.1,63.9 L1352.7,64.2 L1354.4,64.1 L1356.0,64.1 L1357.6,64.5 L1359.3,64.4 L1360.9,64.4 L1362.5,64.5 L1364.2,64.5 L1365.8,64.6 L1367.5,64.5 L1369.1,64.5 L1370.7,64.5 L1372.4,64.5 L1374.0,64.7 L1375.6,64.8 L1377.3,64.9 L1378.9,65.2 L1380.5,65.6 L1382.2,65.6 L1383.8,65.6 L1385.5,65.9 L1387.1,65.8 L1388.7,65.9 L1390.4,66.1 L1392.0,66.3 L1393.6,66.6 L1395.3,66.6 L1396.9,66.9 L1398.6,67.1 L1400.3,68.0 L1402.0,68.3 L1403.7,69.0 L1405.4,69.1 L1407.1,70.0 L1408.8,70.3 L1410.5,71.0 L1412.2,71.5 L1413.9,71.8 L1415.7,71.9 L1417.4,72.1 L1419.1,72.5 L1420.8,73.1 L1422.6,73.0 L1424.3,73.6 L1426.0,73.8 L1427.8,74.2 L1429.5,74.4" fill="none" stroke="#000000" stroke-width="2.2" stroke-linejoin="round" stroke-linecap="round" />
</g>
<rect x="848.2" y="6.0" width="582.1" height="428.3" fill="none" stroke="#000" stroke-width="2.3"/>
<line x1="848.2" y1="434.3" x2="848.2" y2="443.3" stroke="#000" stroke-width="2" />
<line x1="896.7" y1="434.3" x2="896.7" y2="439.3" stroke="#000" stroke-width="2" />
<line x1="945.2" y1="434.3" x2="945.2" y2="443.3" stroke="#000" stroke-width="2" />
<line x1="993.7" y1="434.3" x2="993.7" y2="439.3" stroke="#000" stroke-width="2" />
<line x1="1042.2" y1="434.3" x2="1042.2" y2="443.3" stroke="#000" stroke-width="2" />
<line x1="1090.7" y1="434.3" x2="1090.7" y2="439.3" stroke="#000" stroke-width="2" />
<line x1="1139.2" y1="434.3" x2="1139.2" y2="443.3" stroke="#000" stroke-width="2" />
<line x1="1187.8" y1="434.3" x2="1187.8" y2="439.3" stroke="#000" stroke-width="2" />
<line x1="1236.3" y1="434.3" x2="1236.3" y2="443.3" stroke="#000" stroke-width="2" />
<line x1="1284.8" y1="434.3" x2="1284.8" y2="439.3" stroke="#000" stroke-width="2" />
<line x1="1333.3" y1="434.3" x2="1333.3" y2="443.3" stroke="#000" stroke-width="2" />
<line x1="1381.8" y1="434.3" x2="1381.8" y2="439.3" stroke="#000" stroke-width="2" />
<line x1="1430.3" y1="434.3" x2="1430.3" y2="443.3" stroke="#000" stroke-width="2" />
<line x1="839.2" y1="434.2" x2="848.2" y2="434.2" stroke="#000" stroke-width="2" />
<line x1="843.2" y1="393.4" x2="848.2" y2="393.4" stroke="#000" stroke-width="2" />
<line x1="839.2" y1="352.6" x2="848.2" y2="352.6" stroke="#000" stroke-width="2" />
<line x1="843.2" y1="311.7" x2="848.2" y2="311.7" stroke="#000" stroke-width="2" />
<line x1="839.2" y1="270.9" x2="848.2" y2="270.9" stroke="#000" stroke-width="2" />
<line x1="843.2" y1="230.1" x2="848.2" y2="230.1" stroke="#000" stroke-width="2" />
<line x1="839.2" y1="189.3" x2="848.2" y2="189.3" stroke="#000" stroke-width="2" />
<line x1="843.2" y1="148.5" x2="848.2" y2="148.5" stroke="#000" stroke-width="2" />
<line x1="839.2" y1="107.6" x2="848.2" y2="107.6" stroke="#000" stroke-width="2" />
<line x1="843.2" y1="66.8" x2="848.2" y2="66.8" stroke="#000" stroke-width="2" />
<line x1="839.2" y1="26.0" x2="848.2" y2="26.0" stroke="#000" stroke-width="2" />
<line x1="1421.3" y1="434.4" x2="1430.3" y2="434.4" stroke="#000" stroke-width="2" />
<line x1="1425.3" y1="391.5" x2="1430.3" y2="391.5" stroke="#000" stroke-width="2" />
<line x1="1421.3" y1="348.6" x2="1430.3" y2="348.6" stroke="#000" stroke-width="2" />
<line x1="1425.3" y1="305.7" x2="1430.3" y2="305.7" stroke="#000" stroke-width="2" />
<line x1="1421.3" y1="262.8" x2="1430.3" y2="262.8" stroke="#000" stroke-width="2" />
<line x1="1425.3" y1="219.9" x2="1430.3" y2="219.9" stroke="#000" stroke-width="2" />
<line x1="1421.3" y1="177.0" x2="1430.3" y2="177.0" stroke="#000" stroke-width="2" />
<line x1="1425.3" y1="134.1" x2="1430.3" y2="134.1" stroke="#000" stroke-width="2" />
<line x1="1421.3" y1="91.2" x2="1430.3" y2="91.2" stroke="#000" stroke-width="2" />
<line x1="1425.3" y1="48.3" x2="1430.3" y2="48.3" stroke="#000" stroke-width="2" />
<line x1="1421.3" y1="5.4" x2="1430.3" y2="5.4" stroke="#000" stroke-width="2" />
<line x1="860.0" y1="31.8" x2="912.6" y2="31.8" stroke="#000000" stroke-width="2.4" />
<line x1="860.0" y1="65.7" x2="912.6" y2="65.7" stroke="#ff00ff" stroke-width="2.4" />
<line x1="860.0" y1="99.6" x2="912.6" y2="99.6" stroke="#0000ff" stroke-width="2.4" />
<line x1="860.0" y1="133.5" x2="912.6" y2="133.5" stroke="#008000" stroke-width="2.4" />
<line x1="860.0" y1="167.4" x2="912.6" y2="167.4" stroke="#000080" stroke-width="2.4" />
<line x1="1159.5" y1="201.8" x2="1134.0" y2="207.5" stroke="#000000" stroke-width="1.6" marker-end="url(#ah)"/>
<line x1="994.2" y1="314.6" x2="963.0" y2="299.2" stroke="#000080" stroke-width="1.6" marker-end="url(#ah)"/>
<line x1="1046.0" y1="412.4" x2="1011.0" y2="412.1" stroke="#ff0000" stroke-width="1.6" marker-end="url(#ah)"/>
<line x1="1133.4" y1="369.6" x2="1164.0" y2="370.5" stroke="#ff00ff" stroke-width="1.6" marker-end="url(#ah)"/>
<line x1="1124.8" y1="394.4" x2="1157.3" y2="395.4" stroke="#0000ff" stroke-width="1.6" marker-end="url(#ah)"/>
<line x1="1118.1" y1="415.4" x2="1151.6" y2="417.3" stroke="#008000" stroke-width="1.6" marker-end="url(#ah)"/>
<line x1="1333.5" y1="292.5" x2="1429.0" y2="293.0" stroke="#ff0000" stroke-width="1.6" marker-end="url(#ah)"/>
<text transform="matrix(1.0019 0.0000 0.0000 0.9778 2.30 42.82)" font-size="50" fill="#000">(a)</text>
<text transform="matrix(0.9947 0.0000 0.0000 0.9756 733.31 45.04)" font-size="50" fill="#000">(b)</text>
<text transform="matrix(1.0160 0.0000 0.0000 0.9926 307.10 513.64)" font-size="29" fill="#000">Wavelength (nm)</text>
<text transform="matrix(0.0000 -1.0059 0.9889 0.0000 64.17 331.30)" font-size="29" fill="#000">Absorbance (a.u.)</text>
<text transform="matrix(1.0141 0.0000 0.0000 0.9484 1092.79 510.76)" font-size="33" fill="#000">h&#957; (eV)</text>
<text transform="matrix(0.0000 -1.0878 1.0355 0.0000 787.89 310.39)" font-size="31" fill="#000">(&#945;h&#957;)<tspan font-size="19" dy="-12" font-weight="normal">1/2</tspan><tspan dy="12"> (eV)</tspan><tspan font-size="19" dy="-12" font-weight="normal">1/2</tspan></text>
<text transform="matrix(0.0000 -1.1430 1.0333 0.0000 1490.10 292.94)" font-size="29" fill="#000">(&#945;h&#957;)<tspan font-size="19" dy="-11" font-weight="normal">2</tspan><tspan dy="11"> (eV)</tspan><tspan font-size="19" dy="-11" font-weight="normal">2</tspan></text>
<text transform="matrix(0.9986 0.0000 0.0000 1.0400 1071.30 235.00)" font-size="23" fill="#000">2.99 eV</text>
<text transform="matrix(1.0083 0.0000 0.0000 1.0600 887.99 302.50)" font-size="23" fill="#000080">2.37 eV</text>
<text transform="matrix(1.0000 0.0000 0.0000 1.0600 935.60 424.90)" font-size="23" fill="#ff0000">2.80 eV</text>
<text transform="matrix(1.0042 0.0000 0.0000 1.0800 1166.90 378.10)" font-size="23" fill="#ff00ff">3.39 eV</text>
<text transform="matrix(0.9931 0.0000 0.0000 1.0800 1162.41 404.10)" font-size="23" fill="#0000ff">3.36 eV</text>
<text transform="matrix(1.0069 0.0000 0.0000 1.0467 1160.49 428.40)" font-size="23" fill="#008000">3.35 eV</text>
<text transform="matrix(0.9758 0.0000 0.0000 0.9690 1332.30 322.01)" font-size="28" fill="#000">Bi<tspan font-size="15" dy="9.5">2</tspan><tspan dy="-9.5">WO</tspan><tspan font-size="15" dy="9.5">6</tspan></text>
<text transform="matrix(1.0324 0.0000 0.0000 1.0368 72.97 420.65)" font-size="29" fill="#000">0.0</text>
<text transform="matrix(1.0324 0.0000 0.0000 1.0368 72.97 325.65)" font-size="29" fill="#000">0.2</text>
<text transform="matrix(1.0324 0.0000 0.0000 1.0368 71.94 230.65)" font-size="29" fill="#000">0.4</text>
<text transform="matrix(1.0324 0.0000 0.0000 1.0368 72.97 135.65)" font-size="29" fill="#000">0.6</text>
<text transform="matrix(1.0324 0.0000 0.0000 1.0368 72.97 40.65)" font-size="29" fill="#000">0.8</text>
<text transform="matrix(1.0439 0.0000 0.0000 1.0842 102.06 473.60)" font-size="29" fill="#000">200</text>
<text transform="matrix(1.0439 0.0000 0.0000 1.0842 199.06 473.60)" font-size="29" fill="#000">300</text>
<text transform="matrix(1.0439 0.0000 0.0000 1.0842 296.58 473.60)" font-size="29" fill="#000">400</text>
<text transform="matrix(1.0439 0.0000 0.0000 1.0842 393.06 473.60)" font-size="29" fill="#000">500</text>
<text transform="matrix(1.0439 0.0000 0.0000 1.0842 490.06 473.60)" font-size="29" fill="#000">600</text>
<text transform="matrix(1.0439 0.0000 0.0000 1.0842 586.53 473.60)" font-size="29" fill="#000">700</text>
<text transform="matrix(1.0439 0.0000 0.0000 1.0842 684.06 473.60)" font-size="29" fill="#000">800</text>
<text transform="matrix(1.0031 0.0000 0.0000 1.0611 798.90 442.65)" font-size="27" fill="#000">0.0</text>
<text transform="matrix(1.0031 0.0000 0.0000 1.0611 798.90 361.01)" font-size="27" fill="#000">0.4</text>
<text transform="matrix(1.0031 0.0000 0.0000 1.0611 798.90 279.37)" font-size="27" fill="#000">0.8</text>
<text transform="matrix(1.0031 0.0000 0.0000 1.0611 798.90 197.73)" font-size="27" fill="#000">1.2</text>
<text transform="matrix(1.0031 0.0000 0.0000 1.0611 798.90 116.09)" font-size="27" fill="#000">1.6</text>
<text transform="matrix(1.0031 0.0000 0.0000 1.0611 798.90 34.45)" font-size="27" fill="#000">2.0</text>
<text transform="matrix(1.0188 0.0000 0.0000 1.0222 830.88 470.20)" font-size="27" fill="#000">2.0</text>
<text transform="matrix(1.0188 0.0000 0.0000 1.0222 927.90 470.20)" font-size="27" fill="#000">2.5</text>
<text transform="matrix(1.0188 0.0000 0.0000 1.0222 1024.91 470.20)" font-size="27" fill="#000">3.0</text>
<text transform="matrix(1.0188 0.0000 0.0000 1.0222 1121.93 470.20)" font-size="27" fill="#000">3.5</text>
<text transform="matrix(1.0188 0.0000 0.0000 1.0222 1219.45 470.20)" font-size="27" fill="#000">4.0</text>
<text transform="matrix(1.0188 0.0000 0.0000 1.0222 1316.47 470.20)" font-size="27" fill="#000">4.5</text>
<text transform="matrix(1.0188 0.0000 0.0000 1.0222 1412.97 470.20)" font-size="27" fill="#000">5.0</text>
<text transform="matrix(1.0482 0.0000 0.0000 1.0176 1439.25 443.25)" font-size="26" fill="#000">0</text>
<text transform="matrix(1.0482 0.0000 0.0000 1.0176 1439.25 357.45)" font-size="26" fill="#000">2</text>
<text transform="matrix(1.0482 0.0000 0.0000 1.0176 1440.30 271.65)" font-size="26" fill="#000">4</text>
<text transform="matrix(1.0482 0.0000 0.0000 1.0176 1439.25 185.85)" font-size="26" fill="#000">6</text>
<text transform="matrix(1.0482 0.0000 0.0000 1.0176 1439.25 100.05)" font-size="26" fill="#000">8</text>
<text transform="matrix(1.0482 0.0000 0.0000 1.0176 1438.20 14.25)" font-size="26" fill="#000">10</text>
<text transform="matrix(1.0426 0.0000 0.0000 1.0167 468.30 42.00)" font-size="25" fill="#000">BiOCl</text>
<text transform="matrix(1.0650 0.0000 0.0000 1.0167 468.60 76.25)" font-size="25" fill="#000">BWO</text>
<text transform="matrix(1.0744 0.0000 0.0000 1.0167 467.03 110.50)" font-size="25" fill="#000">0.5% BWO-BiOCl</text>
<text transform="matrix(1.0860 0.0000 0.0000 1.0167 465.43 144.75)" font-size="25" fill="#000">1% BWO-BiOCl</text>
<text transform="matrix(1.0800 0.0000 0.0000 1.0167 466.52 179.00)" font-size="25" fill="#000">2% BWO-BiOCl</text>
<text transform="matrix(1.0757 0.0000 0.0000 1.0167 467.30 213.25)" font-size="25" fill="#000">4% BWO-BiOCl</text>
<text transform="matrix(1.0471 0.0000 0.0000 0.9833 920.00 39.40)" font-size="25" fill="#000">BiOCl</text>
<text transform="matrix(1.0744 0.0000 0.0000 0.9833 918.93 73.00)" font-size="25" fill="#000">0.5% BWO-BiOCl</text>
<text transform="matrix(1.0855 0.0000 0.0000 0.9833 917.43 106.60)" font-size="25" fill="#000">1% BWO-BiOCl</text>
<text transform="matrix(1.0794 0.0000 0.0000 0.9833 918.52 140.20)" font-size="25" fill="#000">2% BWO-BiOCl</text>
<text transform="matrix(1.0751 0.0000 0.0000 0.9833 919.30 173.80)" font-size="25" fill="#000">4% BWO-BiOCl</text>
<rect x="0" y="0" width="1499" height="2.3" fill="#fff"/>
</svg>
</body></html>
